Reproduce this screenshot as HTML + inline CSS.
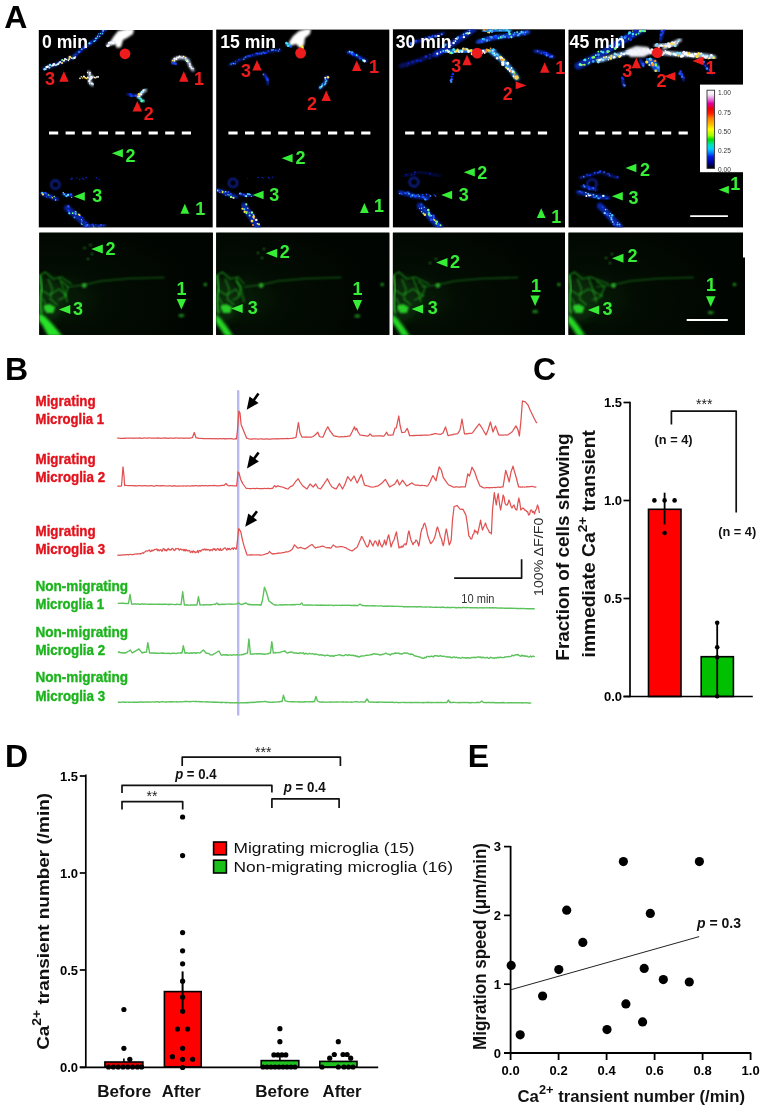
<!DOCTYPE html><html><head><meta charset="utf-8"><style>html,body{margin:0;padding:0;background:#fff;}svg{display:block;}text{font-family:'Liberation Sans',sans-serif;}</style></head><body>
<svg style="filter:blur(0.4px)" width="765" height="1112" viewBox="0 0 765 1112">
<rect width="765" height="1112" fill="#fff"/>
<text x="4.2" y="28.2" font-size="32" font-weight="bold" font-style="normal" fill="#000" text-anchor="start" >A</text>
<text x="5.0" y="379.8" font-size="32" font-weight="bold" font-style="normal" fill="#000" text-anchor="start" >B</text>
<text x="532.9" y="379.7" font-size="32" font-weight="bold" font-style="normal" fill="#000" text-anchor="start" >C</text>
<text x="5.0" y="766.9" font-size="32" font-weight="bold" font-style="normal" fill="#000" text-anchor="start" >D</text>
<text x="467.8" y="766.9" font-size="32" font-weight="bold" font-style="normal" fill="#000" text-anchor="start" >E</text>
<rect x="38.8" y="30.0" width="173.9" height="197.4" fill="#000"/>
<rect x="216.2" y="29.6" width="173.1" height="197.8" fill="#000"/>
<rect x="392.9" y="29.3" width="172.1" height="198.1" fill="#000"/>
<rect x="568.5" y="29.7" width="174.5" height="197.7" fill="#000"/>
<rect x="39.3" y="232.7" width="173.5" height="102.2" fill="#020d02"/>
<rect x="216.2" y="232.7" width="173.1" height="102.2" fill="#020d02"/>
<rect x="392.9" y="232.7" width="172.1" height="102.2" fill="#020d02"/>
<rect x="568.5" y="232.7" width="174.5" height="102.2" fill="#020d02"/>
<rect x="742" y="257.7" width="3" height="77.2" fill="#020d02"/>
<defs><filter id="bl1" x="-20%" y="-20%" width="140%" height="140%"><feGaussianBlur stdDeviation="0.9"/></filter><filter id="bl2" x="-30%" y="-30%" width="160%" height="160%"><feGaussianBlur stdDeviation="1.6"/></filter><filter id="bl4" x="-30%" y="-30%" width="160%" height="160%"><feGaussianBlur stdDeviation="4"/></filter><clipPath id="cp1"><rect x="38.8" y="30" width="173.9" height="197.4"/></clipPath><clipPath id="cp2"><rect x="216.2" y="29.6" width="173.1" height="197.8"/></clipPath><clipPath id="cp3"><rect x="392.9" y="29.3" width="172.1" height="198.1"/></clipPath><clipPath id="cp4"><rect x="568.5" y="29.7" width="174.5" height="197.7"/></clipPath><clipPath id="gp1"><rect x="39.3" y="232.7" width="173.5" height="102.2"/></clipPath><clipPath id="gp2"><rect x="216.2" y="232.7" width="173.1" height="102.2"/></clipPath><clipPath id="gp3"><rect x="392.9" y="232.7" width="172.1" height="102.2"/></clipPath><clipPath id="gp4"><rect x="568.5" y="232.7" width="176.5" height="102.2"/></clipPath></defs>
<g clip-path="url(#cp1)">
<polyline points="105.0,29.0 95.0,40.0 85.0,47.0 75.0,55.0" fill="none" stroke="#1030d0" stroke-width="3" stroke-linecap="round" stroke-linejoin="round" filter="url(#bl1)" opacity="0.8"/>
<circle cx="105.8" cy="29.7" r="1.0" fill="#2050ff"/>
<circle cx="103.1" cy="30.8" r="1.1" fill="#40a0ff"/>
<circle cx="102.5" cy="32.0" r="0.6" fill="#2050ff"/>
<circle cx="102.5" cy="33.7" r="0.9" fill="#40a0ff"/>
<circle cx="100.4" cy="33.6" r="0.6" fill="#60ffc0"/>
<circle cx="98.7" cy="33.8" r="0.6" fill="#40a0ff"/>
<circle cx="99.7" cy="36.5" r="0.7" fill="#40e0ff"/>
<circle cx="97.6" cy="36.3" r="0.7" fill="#60ffc0"/>
<circle cx="97.4" cy="37.9" r="0.9" fill="#2050ff"/>
<circle cx="96.0" cy="38.4" r="0.9" fill="#60ffc0"/>
<circle cx="95.8" cy="40.0" r="1.0" fill="#1030ff"/>
<circle cx="95.4" cy="40.6" r="0.7" fill="#40a0ff"/>
<circle cx="94.3" cy="41.2" r="0.9" fill="#40e0ff"/>
<circle cx="91.0" cy="41.1" r="0.7" fill="#1030ff"/>
<circle cx="91.0" cy="43.4" r="1.2" fill="#1030ff"/>
<circle cx="89.4" cy="43.3" r="1.1" fill="#60ffc0"/>
<circle cx="86.7" cy="46.3" r="0.9" fill="#1030ff"/>
<circle cx="86.1" cy="47.7" r="0.8" fill="#2050ff"/>
<circle cx="84.6" cy="46.5" r="1.0" fill="#1030ff"/>
<circle cx="84.2" cy="48.1" r="1.0" fill="#2050ff"/>
<circle cx="81.7" cy="49.2" r="0.9" fill="#40a0ff"/>
<circle cx="80.4" cy="51.7" r="0.8" fill="#1030ff"/>
<circle cx="79.0" cy="52.0" r="0.9" fill="#40a0ff"/>
<circle cx="76.0" cy="54.5" r="0.8" fill="#1030ff"/>
<polyline points="75.0,56.0 64.0,61.0 54.0,65.0 44.0,68.5" fill="none" stroke="#2050e0" stroke-width="3" stroke-linecap="round" stroke-linejoin="round" filter="url(#bl1)" opacity="0.7"/>
<circle cx="75.4" cy="57.0" r="0.8" fill="#f0f0ff"/>
<circle cx="74.4" cy="57.9" r="1.2" fill="#ffffff"/>
<circle cx="73.2" cy="58.4" r="1.0" fill="#80e0ff"/>
<circle cx="71.7" cy="58.1" r="0.8" fill="#ffffff"/>
<circle cx="69.8" cy="57.1" r="1.3" fill="#ffe040"/>
<circle cx="69.2" cy="59.0" r="1.0" fill="#ffe040"/>
<circle cx="68.4" cy="60.4" r="0.8" fill="#ffffff"/>
<circle cx="66.6" cy="59.5" r="0.8" fill="#ffffff"/>
<circle cx="65.0" cy="59.1" r="1.1" fill="#ffffff"/>
<circle cx="64.2" cy="60.5" r="0.8" fill="#ffe040"/>
<circle cx="63.9" cy="60.7" r="1.0" fill="#ffffff"/>
<circle cx="62.2" cy="60.1" r="1.0" fill="#80ff80"/>
<circle cx="62.0" cy="63.0" r="1.1" fill="#ffe040"/>
<circle cx="60.2" cy="61.9" r="1.0" fill="#f0f0ff"/>
<circle cx="59.1" cy="62.9" r="0.8" fill="#ffffff"/>
<circle cx="58.2" cy="64.0" r="1.1" fill="#ffffff"/>
<circle cx="57.0" cy="64.6" r="0.9" fill="#ffffff"/>
<circle cx="55.9" cy="65.2" r="1.0" fill="#80e0ff"/>
<circle cx="54.2" cy="64.5" r="1.2" fill="#f0f0ff"/>
<circle cx="53.7" cy="64.1" r="1.1" fill="#f0f0ff"/>
<circle cx="52.8" cy="65.4" r="1.1" fill="#ffffff"/>
<circle cx="51.6" cy="65.9" r="0.8" fill="#80e0ff"/>
<circle cx="49.9" cy="65.1" r="1.3" fill="#80e0ff"/>
<circle cx="49.5" cy="67.8" r="1.0" fill="#80e0ff"/>
<circle cx="47.7" cy="66.8" r="1.2" fill="#ffffff"/>
<circle cx="46.5" cy="67.1" r="1.2" fill="#ffffff"/>
<circle cx="45.8" cy="69.1" r="0.9" fill="#f0f0ff"/>
<circle cx="44.5" cy="69.3" r="1.2" fill="#80e0ff"/>
<polygon points="110.0,42.0 114.0,36.0 118.0,31.0 126.0,29.0 134.0,29.0 133.0,34.0 127.0,38.0 123.0,40.0 121.0,47.0 117.0,48.0 115.0,44.0 108.0,46.0" fill="#ffffff" filter="url(#bl1)" opacity="1.0"/>
<polyline points="107.0,45.0 114.0,42.0" fill="none" stroke="#c0e0ff" stroke-width="2.4" stroke-linecap="round" stroke-linejoin="round" filter="url(#bl1)" opacity="0.9"/>
<circle cx="107.4" cy="46.0" r="1.2" fill="#f0f0ff"/>
<circle cx="108.6" cy="45.5" r="1.2" fill="#ffffff"/>
<circle cx="108.9" cy="42.9" r="1.1" fill="#f0f0ff"/>
<circle cx="110.3" cy="42.7" r="1.3" fill="#f0f0ff"/>
<circle cx="111.6" cy="42.6" r="1.0" fill="#ffffff"/>
<circle cx="113.3" cy="43.1" r="1.2" fill="#ffffff"/>
<polyline points="80.0,77.4 99.0,77.4" fill="none" stroke="#c0d0ff" stroke-width="2.4" stroke-linecap="round" stroke-linejoin="round" filter="url(#bl1)" opacity="0.9"/>
<circle cx="80.0" cy="78.4" r="0.8" fill="#ffffff"/>
<circle cx="81.3" cy="76.7" r="0.7" fill="#ffffff"/>
<circle cx="82.6" cy="78.0" r="0.8" fill="#ffe040"/>
<circle cx="83.9" cy="76.5" r="1.1" fill="#ffffff"/>
<circle cx="85.2" cy="77.8" r="1.0" fill="#ffe040"/>
<circle cx="86.5" cy="78.4" r="0.9" fill="#ffe040"/>
<circle cx="87.8" cy="77.4" r="1.0" fill="#ffffff"/>
<circle cx="89.1" cy="78.1" r="0.7" fill="#ffffff"/>
<circle cx="90.4" cy="77.9" r="0.9" fill="#ffffff"/>
<circle cx="91.7" cy="77.5" r="0.8" fill="#ffffff"/>
<circle cx="93.0" cy="76.3" r="0.7" fill="#ffffff"/>
<circle cx="94.3" cy="77.4" r="0.9" fill="#ffffff"/>
<circle cx="95.6" cy="77.7" r="0.9" fill="#ffe040"/>
<circle cx="96.9" cy="76.9" r="0.9" fill="#f0f0ff"/>
<circle cx="98.2" cy="76.8" r="0.9" fill="#ffffff"/>
<polyline points="88.5,72.0 91.0,77.0 89.0,81.0 92.5,85.0" fill="none" stroke="#d0e0ff" stroke-width="2.8" stroke-linecap="round" stroke-linejoin="round" filter="url(#bl1)" opacity="0.9"/>
<circle cx="87.5" cy="72.5" r="0.7" fill="#f0f0ff"/>
<circle cx="90.0" cy="72.7" r="0.9" fill="#ffffff"/>
<circle cx="89.8" cy="74.2" r="0.7" fill="#ffffff"/>
<circle cx="89.2" cy="76.0" r="0.7" fill="#80e0ff"/>
<circle cx="91.2" cy="76.5" r="0.8" fill="#ffffff"/>
<circle cx="91.7" cy="77.4" r="1.2" fill="#f0f0ff"/>
<circle cx="91.3" cy="78.6" r="1.0" fill="#ffffff"/>
<circle cx="90.0" cy="79.4" r="0.9" fill="#ffffff"/>
<circle cx="89.6" cy="80.7" r="0.7" fill="#ffffff"/>
<circle cx="88.9" cy="81.1" r="0.9" fill="#ffffff"/>
<circle cx="89.8" cy="82.0" r="0.8" fill="#ffffff"/>
<circle cx="89.8" cy="83.7" r="0.7" fill="#ffffff"/>
<circle cx="92.0" cy="83.5" r="1.1" fill="#ffffff"/>
<circle cx="93.2" cy="84.2" r="0.9" fill="#80e0ff"/>
<polyline points="173.0,61.0 177.0,58.0 183.0,57.5 188.0,60.0 190.0,66.0 193.0,70.0" fill="none" stroke="#d0e0ff" stroke-width="3" stroke-linecap="round" stroke-linejoin="round" filter="url(#bl1)" opacity="0.9"/>
<circle cx="172.6" cy="60.4" r="0.7" fill="#ffe040"/>
<circle cx="174.4" cy="60.7" r="0.7" fill="#ffffff"/>
<circle cx="174.5" cy="58.7" r="1.1" fill="#ffffff"/>
<circle cx="176.4" cy="59.0" r="1.1" fill="#ffffff"/>
<circle cx="176.9" cy="57.2" r="0.8" fill="#ffffff"/>
<circle cx="178.3" cy="57.4" r="0.9" fill="#ffffff"/>
<circle cx="179.5" cy="56.4" r="1.0" fill="#ffffff"/>
<circle cx="180.8" cy="57.0" r="0.7" fill="#ffffff"/>
<circle cx="182.2" cy="57.7" r="0.7" fill="#f0f0ff"/>
<circle cx="183.4" cy="56.6" r="0.8" fill="#ffffff"/>
<circle cx="184.8" cy="56.8" r="0.6" fill="#ffe040"/>
<circle cx="185.7" cy="57.8" r="0.9" fill="#f0f0ff"/>
<circle cx="186.1" cy="60.1" r="0.9" fill="#f0f0ff"/>
<circle cx="187.1" cy="60.9" r="1.2" fill="#ffffff"/>
<circle cx="186.6" cy="60.5" r="0.8" fill="#80ffa0"/>
<circle cx="187.8" cy="61.5" r="0.7" fill="#ffffff"/>
<circle cx="187.9" cy="62.8" r="0.6" fill="#80e0ff"/>
<circle cx="189.9" cy="63.5" r="0.7" fill="#ffffff"/>
<circle cx="190.0" cy="64.8" r="0.9" fill="#ffffff"/>
<circle cx="189.5" cy="66.3" r="0.6" fill="#ffffff"/>
<circle cx="190.9" cy="66.9" r="0.8" fill="#ffffff"/>
<circle cx="191.4" cy="68.2" r="0.7" fill="#ffffff"/>
<circle cx="193.1" cy="68.5" r="0.8" fill="#ffffff"/>
<polyline points="172.0,63.0 176.0,64.0" fill="none" stroke="#1030e0" stroke-width="2" stroke-linecap="round" stroke-linejoin="round" filter="url(#bl1)" opacity="0.9"/>
<circle cx="172.0" cy="63.0" r="0.8" fill="#2050ff"/>
<circle cx="173.1" cy="63.9" r="0.7" fill="#2050ff"/>
<circle cx="174.6" cy="63.2" r="1.1" fill="#2050ff"/>
<circle cx="175.8" cy="64.0" r="1.2" fill="#1840e0"/>
<polyline points="128.0,94.0 134.0,96.0 140.0,95.0" fill="none" stroke="#1030e0" stroke-width="2.4" stroke-linecap="round" stroke-linejoin="round" filter="url(#bl1)" opacity="0.9"/>
<circle cx="130.6" cy="94.3" r="1.1" fill="#1030ff"/>
<circle cx="131.4" cy="96.0" r="1.3" fill="#1840e0"/>
<circle cx="135.3" cy="95.8" r="1.0" fill="#2050ff"/>
<circle cx="138.0" cy="96.3" r="1.1" fill="#1030ff"/>
<circle cx="138.9" cy="94.1" r="1.1" fill="#2050ff"/>
<polyline points="138.0,97.0 143.0,92.0 146.0,90.0" fill="none" stroke="#e0e8ff" stroke-width="2.6" stroke-linecap="round" stroke-linejoin="round" filter="url(#bl1)" opacity="0.9"/>
<circle cx="137.9" cy="96.9" r="0.6" fill="#ffffff"/>
<circle cx="139.3" cy="96.4" r="1.0" fill="#ffffff"/>
<circle cx="139.0" cy="94.4" r="1.3" fill="#ffe040"/>
<circle cx="140.8" cy="94.3" r="1.2" fill="#f0f0ff"/>
<circle cx="140.9" cy="92.5" r="0.8" fill="#80e0ff"/>
<circle cx="142.1" cy="91.9" r="1.1" fill="#f0f0ff"/>
<circle cx="142.8" cy="91.7" r="1.0" fill="#80e0ff"/>
<circle cx="143.4" cy="90.3" r="1.1" fill="#ffffff"/>
<circle cx="144.7" cy="89.8" r="0.8" fill="#80e0ff"/>
<polyline points="139.0,98.0 144.0,102.0" fill="none" stroke="#40e0a0" stroke-width="2" stroke-linecap="round" stroke-linejoin="round" filter="url(#bl1)" opacity="0.9"/>
<circle cx="138.8" cy="98.2" r="0.7" fill="#40c0ff"/>
<circle cx="140.3" cy="98.5" r="1.1" fill="#60ffc0"/>
<circle cx="141.3" cy="99.3" r="1.0" fill="#40c0ff"/>
<circle cx="141.7" cy="100.9" r="1.4" fill="#60ffc0"/>
<circle cx="143.6" cy="100.6" r="1.0" fill="#40c0ff"/>
<circle cx="55.4" cy="184.7" r="4.2" fill="none" stroke="#1530d0" stroke-width="1.8" filter="url(#bl1)" opacity="0.9"/>
<polyline points="64.0,178.6 100.0,178.6" fill="none" stroke="#081890" stroke-width="2" stroke-linecap="round" stroke-linejoin="round" filter="url(#bl1)" opacity="0.5"/>
<circle cx="70.5" cy="179.5" r="0.6" fill="#0a20b0"/>
<circle cx="71.8" cy="178.6" r="1.0" fill="#0a20b0"/>
<circle cx="77.0" cy="178.3" r="0.7" fill="#0a20b0"/>
<circle cx="79.6" cy="179.5" r="0.8" fill="#0a20b0"/>
<circle cx="82.2" cy="178.3" r="0.7" fill="#0a20b0"/>
<circle cx="83.5" cy="179.1" r="0.9" fill="#0a20b0"/>
<circle cx="86.1" cy="177.6" r="0.9" fill="#0a20b0"/>
<circle cx="96.5" cy="177.8" r="0.9" fill="#0a20b0"/>
<circle cx="99.1" cy="179.5" r="0.7" fill="#0a20b0"/>
<polyline points="42.0,193.5 50.0,196.5 57.0,199.5" fill="none" stroke="#1030d0" stroke-width="4" stroke-linecap="round" stroke-linejoin="round" filter="url(#bl1)" opacity="0.8"/>
<circle cx="42.2" cy="193.0" r="1.2" fill="#40c0ff"/>
<circle cx="43.0" cy="194.4" r="1.1" fill="#ffe040"/>
<circle cx="45.1" cy="192.7" r="1.0" fill="#2050ff"/>
<circle cx="46.2" cy="193.5" r="1.1" fill="#2050ff"/>
<circle cx="46.3" cy="196.9" r="0.7" fill="#2050ff"/>
<circle cx="48.4" cy="195.0" r="0.8" fill="#80ff80"/>
<circle cx="49.7" cy="195.3" r="0.9" fill="#2050ff"/>
<circle cx="49.8" cy="197.0" r="0.6" fill="#2050ff"/>
<circle cx="51.3" cy="196.8" r="0.8" fill="#2050ff"/>
<circle cx="52.3" cy="197.7" r="0.7" fill="#ffe040"/>
<circle cx="54.2" cy="196.5" r="0.7" fill="#80ff80"/>
<circle cx="55.2" cy="197.5" r="0.6" fill="#2050ff"/>
<circle cx="55.6" cy="200.0" r="0.7" fill="#80ff80"/>
<polyline points="63.0,194.0 72.0,196.0" fill="none" stroke="#1030d0" stroke-width="3" stroke-linecap="round" stroke-linejoin="round" filter="url(#bl1)" opacity="0.8"/>
<circle cx="63.3" cy="192.7" r="0.8" fill="#80e0ff"/>
<circle cx="64.3" cy="194.3" r="1.0" fill="#40c0ff"/>
<circle cx="65.3" cy="195.7" r="0.8" fill="#2050ff"/>
<circle cx="66.5" cy="196.2" r="1.1" fill="#40c0ff"/>
<circle cx="68.1" cy="194.9" r="1.1" fill="#80e0ff"/>
<circle cx="70.9" cy="194.4" r="1.2" fill="#2050ff"/>
<circle cx="71.6" cy="197.4" r="0.7" fill="#40c0ff"/>
<polyline points="67.0,208.0 74.0,214.0 81.0,220.0 88.0,227.4" fill="none" stroke="#1030d0" stroke-width="6" stroke-linecap="round" stroke-linejoin="round" filter="url(#bl1)" opacity="0.75"/>
<circle cx="68.4" cy="206.4" r="1.3" fill="#2050ff"/>
<circle cx="68.4" cy="210.4" r="1.1" fill="#1030ff"/>
<circle cx="68.9" cy="211.8" r="0.6" fill="#40a0ff"/>
<circle cx="69.3" cy="213.3" r="1.1" fill="#40e0ff"/>
<circle cx="72.8" cy="213.2" r="0.9" fill="#80ff80"/>
<circle cx="75.6" cy="212.0" r="1.0" fill="#60ffc0"/>
<circle cx="74.9" cy="212.9" r="1.2" fill="#2050ff"/>
<circle cx="75.8" cy="213.9" r="0.9" fill="#40e0ff"/>
<circle cx="74.5" cy="217.4" r="0.9" fill="#40a0ff"/>
<circle cx="78.8" cy="214.4" r="0.9" fill="#ffe040"/>
<circle cx="79.8" cy="215.2" r="0.9" fill="#ffe040"/>
<circle cx="80.6" cy="216.3" r="0.8" fill="#1030ff"/>
<circle cx="82.7" cy="217.8" r="0.8" fill="#1030ff"/>
<circle cx="81.5" cy="219.6" r="0.6" fill="#40e0ff"/>
<circle cx="81.9" cy="221.0" r="0.7" fill="#40a0ff"/>
<circle cx="81.4" cy="223.2" r="0.8" fill="#40a0ff"/>
<circle cx="82.0" cy="224.4" r="0.7" fill="#60ffc0"/>
<circle cx="85.9" cy="222.5" r="0.8" fill="#1030ff"/>
<circle cx="85.9" cy="226.1" r="1.2" fill="#2050ff"/>
<circle cx="85.2" cy="228.6" r="0.7" fill="#2050ff"/>
<polyline points="86.0,225.0 96.0,226.0 105.0,225.0" fill="none" stroke="#1030d0" stroke-width="3" stroke-linecap="round" stroke-linejoin="round" filter="url(#bl1)" opacity="0.7"/>
<circle cx="87.3" cy="225.0" r="1.0" fill="#4080ff"/>
<circle cx="92.6" cy="224.7" r="1.2" fill="#1840e0"/>
<circle cx="93.7" cy="226.3" r="0.8" fill="#4080ff"/>
<circle cx="95.9" cy="224.8" r="0.6" fill="#2050ff"/>
<circle cx="97.4" cy="227.2" r="0.7" fill="#1030ff"/>
<circle cx="98.7" cy="226.5" r="0.8" fill="#1840e0"/>
<circle cx="99.9" cy="226.2" r="0.7" fill="#1840e0"/>
<circle cx="101.1" cy="225.0" r="1.1" fill="#2050ff"/>
<circle cx="103.8" cy="225.5" r="0.8" fill="#1840e0"/>
<polyline points="180.0,198.0 186.0,198.0" fill="none" stroke="#1030ff" stroke-width="1.2" stroke-linecap="round" stroke-linejoin="round" filter="url(#bl1)" opacity="1.0"/>
</g>
<g clip-path="url(#cp2)">
<polygon points="289.0,42.0 293.0,36.0 299.0,31.0 306.0,29.0 311.0,29.0 310.0,34.0 305.0,38.0 304.0,45.0 300.0,48.0 296.0,44.0 290.0,46.0" fill="#ffffff" filter="url(#bl1)" opacity="1.0"/>
<polyline points="286.0,44.0 291.0,46.0" fill="none" stroke="#40c0ff" stroke-width="2.2" stroke-linecap="round" stroke-linejoin="round" filter="url(#bl1)" opacity="0.9"/>
<circle cx="286.4" cy="43.1" r="1.3" fill="#40e0ff"/>
<circle cx="287.6" cy="43.6" r="1.1" fill="#40e0ff"/>
<circle cx="288.0" cy="45.9" r="1.1" fill="#40e0ff"/>
<circle cx="289.5" cy="45.8" r="1.3" fill="#40e0ff"/>
<circle cx="290.6" cy="46.5" r="1.3" fill="#2050ff"/>
<polyline points="300.0,45.0 303.0,48.0" fill="none" stroke="#ffe040" stroke-width="2.2" stroke-linecap="round" stroke-linejoin="round" filter="url(#bl1)" opacity="0.9"/>
<circle cx="300.4" cy="44.6" r="1.0" fill="#ffffff"/>
<circle cx="301.1" cy="45.7" r="0.8" fill="#ffffff"/>
<circle cx="302.4" cy="46.3" r="1.0" fill="#ffe040"/>
<circle cx="302.4" cy="48.1" r="1.3" fill="#ffe040"/>
<polyline points="230.0,65.0 240.0,60.0 250.0,56.0 262.0,53.0 272.0,51.0 280.0,50.0" fill="none" stroke="#1030d0" stroke-width="2.4" stroke-linecap="round" stroke-linejoin="round" filter="url(#bl1)" opacity="0.7"/>
<circle cx="231.0" cy="64.0" r="0.8" fill="#40c0ff"/>
<circle cx="232.0" cy="63.2" r="1.0" fill="#1030ff"/>
<circle cx="233.6" cy="63.6" r="0.8" fill="#40c0ff"/>
<circle cx="235.2" cy="63.7" r="1.0" fill="#2050ff"/>
<circle cx="235.4" cy="61.2" r="0.6" fill="#1840e0"/>
<circle cx="238.9" cy="59.6" r="0.8" fill="#1030ff"/>
<circle cx="243.9" cy="59.3" r="0.7" fill="#40c0ff"/>
<circle cx="244.6" cy="57.5" r="0.7" fill="#1840e0"/>
<circle cx="245.8" cy="57.0" r="0.7" fill="#40c0ff"/>
<circle cx="246.9" cy="56.1" r="0.7" fill="#1030ff"/>
<circle cx="248.2" cy="56.0" r="1.0" fill="#1840e0"/>
<circle cx="250.0" cy="55.9" r="1.0" fill="#1840e0"/>
<circle cx="252.4" cy="54.9" r="0.7" fill="#1030ff"/>
<circle cx="256.1" cy="53.4" r="0.9" fill="#1030ff"/>
<circle cx="257.4" cy="53.5" r="1.0" fill="#2050ff"/>
<circle cx="258.9" cy="54.0" r="0.9" fill="#1030ff"/>
<circle cx="260.0" cy="53.1" r="0.6" fill="#4080ff"/>
<circle cx="261.5" cy="53.7" r="1.1" fill="#2050ff"/>
<circle cx="263.2" cy="52.4" r="0.9" fill="#2050ff"/>
<circle cx="264.7" cy="53.2" r="0.9" fill="#2050ff"/>
<circle cx="266.0" cy="52.9" r="0.9" fill="#1030ff"/>
<circle cx="268.2" cy="50.9" r="0.9" fill="#1840e0"/>
<circle cx="271.9" cy="49.9" r="1.0" fill="#4080ff"/>
<circle cx="273.1" cy="49.7" r="1.0" fill="#4080ff"/>
<circle cx="275.8" cy="50.3" r="1.1" fill="#1840e0"/>
<circle cx="278.5" cy="51.0" r="0.8" fill="#4080ff"/>
<circle cx="279.6" cy="49.2" r="0.6" fill="#40c0ff"/>
<polyline points="264.0,74.0 268.0,80.0 268.0,84.0" fill="none" stroke="#1030d0" stroke-width="2.4" stroke-linecap="round" stroke-linejoin="round" filter="url(#bl1)" opacity="0.9"/>
<circle cx="263.4" cy="74.4" r="0.9" fill="#4080ff"/>
<circle cx="265.7" cy="76.0" r="0.7" fill="#1030ff"/>
<circle cx="266.9" cy="78.3" r="1.2" fill="#1030ff"/>
<circle cx="266.9" cy="79.9" r="0.6" fill="#1840e0"/>
<circle cx="267.7" cy="80.0" r="1.1" fill="#2050ff"/>
<polyline points="348.0,52.0 357.0,56.0 366.0,61.0" fill="none" stroke="#1030d0" stroke-width="3" stroke-linecap="round" stroke-linejoin="round" filter="url(#bl1)" opacity="0.9"/>
<circle cx="347.7" cy="52.8" r="0.8" fill="#1030ff"/>
<circle cx="349.6" cy="51.7" r="1.0" fill="#60ffc0"/>
<circle cx="350.5" cy="52.8" r="1.0" fill="#1030ff"/>
<circle cx="352.0" cy="52.6" r="1.4" fill="#40a0ff"/>
<circle cx="352.7" cy="54.3" r="1.2" fill="#2050ff"/>
<circle cx="354.2" cy="54.2" r="0.9" fill="#1030ff"/>
<circle cx="355.0" cy="55.5" r="0.8" fill="#1030ff"/>
<circle cx="356.6" cy="55.0" r="0.9" fill="#40e0ff"/>
<circle cx="357.1" cy="55.8" r="0.6" fill="#60ffc0"/>
<circle cx="359.4" cy="57.1" r="1.1" fill="#1030ff"/>
<circle cx="360.0" cy="58.7" r="0.9" fill="#2050ff"/>
<circle cx="361.6" cy="58.3" r="0.7" fill="#1030ff"/>
<circle cx="362.5" cy="59.6" r="0.6" fill="#40a0ff"/>
<circle cx="363.5" cy="60.4" r="1.2" fill="#60ffc0"/>
<circle cx="364.6" cy="61.1" r="1.3" fill="#ffffff"/>
<polyline points="327.0,77.0 325.0,83.0 320.0,88.0" fill="none" stroke="#2050e0" stroke-width="3" stroke-linecap="round" stroke-linejoin="round" filter="url(#bl1)" opacity="0.9"/>
<circle cx="328.0" cy="77.3" r="1.3" fill="#ffe040"/>
<circle cx="325.2" cy="77.8" r="1.0" fill="#ffffff"/>
<circle cx="325.5" cy="79.3" r="0.8" fill="#40c0ff"/>
<circle cx="326.5" cy="80.9" r="0.9" fill="#40c0ff"/>
<circle cx="325.5" cy="82.0" r="0.8" fill="#80ff80"/>
<circle cx="325.5" cy="83.5" r="1.0" fill="#40c0ff"/>
<circle cx="324.7" cy="84.6" r="0.9" fill="#40c0ff"/>
<circle cx="322.3" cy="84.0" r="0.7" fill="#40c0ff"/>
<circle cx="322.2" cy="85.7" r="1.1" fill="#40c0ff"/>
<circle cx="321.4" cy="86.8" r="1.0" fill="#ffe040"/>
<circle cx="320.3" cy="87.5" r="1.3" fill="#40c0ff"/>
<circle cx="233" cy="183" r="4.2" fill="none" stroke="#1530d0" stroke-width="1.8" filter="url(#bl1)" opacity="0.9"/>
<polyline points="240.0,178.0 276.0,178.0" fill="none" stroke="#081890" stroke-width="2" stroke-linecap="round" stroke-linejoin="round" filter="url(#bl1)" opacity="0.5"/>
<circle cx="247.8" cy="178.5" r="0.5" fill="#0a20b0"/>
<circle cx="258.2" cy="177.6" r="0.8" fill="#0a20b0"/>
<circle cx="262.1" cy="177.5" r="0.8" fill="#0a20b0"/>
<circle cx="263.4" cy="178.1" r="0.7" fill="#0a20b0"/>
<circle cx="268.6" cy="177.7" r="0.9" fill="#0a20b0"/>
<circle cx="269.9" cy="178.9" r="0.6" fill="#0a20b0"/>
<circle cx="272.5" cy="177.3" r="0.8" fill="#0a20b0"/>
<polyline points="218.0,190.0 228.0,194.0 236.0,197.0" fill="none" stroke="#1030d0" stroke-width="4" stroke-linecap="round" stroke-linejoin="round" filter="url(#bl1)" opacity="0.8"/>
<circle cx="217.8" cy="190.5" r="0.9" fill="#80ff80"/>
<circle cx="219.1" cy="190.8" r="1.0" fill="#2050ff"/>
<circle cx="219.8" cy="192.5" r="0.6" fill="#40c0ff"/>
<circle cx="222.0" cy="190.5" r="0.6" fill="#40c0ff"/>
<circle cx="222.8" cy="192.1" r="1.2" fill="#ffe040"/>
<circle cx="224.0" cy="192.5" r="1.0" fill="#2050ff"/>
<circle cx="225.7" cy="191.7" r="0.8" fill="#80ff80"/>
<circle cx="225.7" cy="195.2" r="1.0" fill="#2050ff"/>
<circle cx="228.4" cy="192.0" r="1.1" fill="#2050ff"/>
<circle cx="227.8" cy="194.6" r="0.7" fill="#40c0ff"/>
<circle cx="229.0" cy="195.0" r="0.7" fill="#80ff80"/>
<circle cx="230.8" cy="194.0" r="0.9" fill="#2050ff"/>
<circle cx="231.1" cy="196.9" r="1.2" fill="#80ff80"/>
<circle cx="232.2" cy="197.6" r="0.7" fill="#40c0ff"/>
<circle cx="233.5" cy="197.8" r="1.1" fill="#ffe040"/>
<polyline points="240.0,194.0 252.0,196.0" fill="none" stroke="#1030d0" stroke-width="3" stroke-linecap="round" stroke-linejoin="round" filter="url(#bl1)" opacity="0.8"/>
<circle cx="240.1" cy="193.5" r="1.1" fill="#80e0ff"/>
<circle cx="241.3" cy="193.9" r="1.1" fill="#2050ff"/>
<circle cx="243.8" cy="194.7" r="0.9" fill="#2050ff"/>
<circle cx="245.0" cy="195.9" r="0.9" fill="#2050ff"/>
<circle cx="246.2" cy="196.2" r="1.1" fill="#80e0ff"/>
<circle cx="247.9" cy="194.0" r="1.1" fill="#40c0ff"/>
<circle cx="249.2" cy="194.3" r="1.0" fill="#40c0ff"/>
<circle cx="250.4" cy="194.6" r="0.6" fill="#40c0ff"/>
<circle cx="251.5" cy="196.3" r="0.6" fill="#40c0ff"/>
<polyline points="244.0,206.0 248.0,212.0 252.0,218.0 258.0,227.4" fill="none" stroke="#1030d0" stroke-width="6.5" stroke-linecap="round" stroke-linejoin="round" filter="url(#bl1)" opacity="0.8"/>
<circle cx="246.3" cy="204.4" r="1.1" fill="#80ff80"/>
<circle cx="242.3" cy="208.7" r="1.0" fill="#ffe040"/>
<circle cx="244.1" cy="209.1" r="1.2" fill="#40c0ff"/>
<circle cx="247.8" cy="208.2" r="0.7" fill="#ffe040"/>
<circle cx="244.7" cy="211.8" r="1.2" fill="#ffe040"/>
<circle cx="246.9" cy="211.9" r="0.8" fill="#ffe040"/>
<circle cx="246.4" cy="213.1" r="1.1" fill="#80ff80"/>
<circle cx="249.1" cy="212.8" r="0.6" fill="#80ff80"/>
<circle cx="251.9" cy="212.5" r="1.2" fill="#80ff80"/>
<circle cx="249.6" cy="215.6" r="1.0" fill="#80ff80"/>
<circle cx="253.4" cy="214.6" r="0.9" fill="#40c0ff"/>
<circle cx="253.8" cy="216.0" r="1.0" fill="#ffe040"/>
<circle cx="253.6" cy="217.0" r="1.3" fill="#ffe040"/>
<circle cx="253.9" cy="218.4" r="0.9" fill="#ff9020"/>
<circle cx="252.0" cy="221.1" r="1.4" fill="#ffe040"/>
<circle cx="256.3" cy="219.9" r="1.2" fill="#ffffff"/>
<circle cx="253.0" cy="225.1" r="1.0" fill="#ff9020"/>
<circle cx="257.4" cy="223.8" r="0.8" fill="#ffffff"/>
<circle cx="259.0" cy="224.3" r="1.1" fill="#ffe040"/>
<circle cx="254.9" cy="228.5" r="1.0" fill="#ffe040"/>
</g>
<g clip-path="url(#cp3)">
<polyline points="401.0,66.0 414.0,62.0 428.0,57.0 442.0,52.0" fill="none" stroke="#0a1aa0" stroke-width="4.5" stroke-linecap="round" stroke-linejoin="round" filter="url(#bl1)" opacity="0.6"/>
<circle cx="407.7" cy="65.8" r="0.6" fill="#0a20c0"/>
<circle cx="408.4" cy="63.4" r="0.9" fill="#0a20c0"/>
<circle cx="412.1" cy="62.4" r="0.9" fill="#0a20c0"/>
<circle cx="413.2" cy="61.4" r="0.7" fill="#1030e0"/>
<circle cx="416.4" cy="60.9" r="1.1" fill="#0a20c0"/>
<circle cx="417.6" cy="60.5" r="1.1" fill="#0a20c0"/>
<circle cx="420.5" cy="60.9" r="1.1" fill="#0a20c0"/>
<circle cx="425.8" cy="56.5" r="1.2" fill="#1030e0"/>
<circle cx="429.9" cy="58.5" r="0.7" fill="#1030e0"/>
<circle cx="429.9" cy="54.6" r="0.8" fill="#1030e0"/>
<circle cx="433.1" cy="55.8" r="0.7" fill="#0a20c0"/>
<circle cx="437.1" cy="55.4" r="0.9" fill="#0a20c0"/>
<circle cx="441.6" cy="52.6" r="0.8" fill="#0a20c0"/>
<polyline points="436.0,54.0 446.0,48.0 458.0,40.0 468.0,33.0 474.0,29.0" fill="none" stroke="#1030d0" stroke-width="6" stroke-linecap="round" stroke-linejoin="round" filter="url(#bl1)" opacity="0.75"/>
<circle cx="437.3" cy="53.7" r="1.1" fill="#ffffff"/>
<circle cx="439.8" cy="52.8" r="1.2" fill="#1030ff"/>
<circle cx="440.9" cy="52.1" r="0.9" fill="#ffffff"/>
<circle cx="442.2" cy="51.7" r="1.2" fill="#1030ff"/>
<circle cx="443.3" cy="51.1" r="1.0" fill="#60ffc0"/>
<circle cx="443.4" cy="46.2" r="1.2" fill="#40e0ff"/>
<circle cx="445.5" cy="44.8" r="1.2" fill="#40a0ff"/>
<circle cx="448.3" cy="46.8" r="0.7" fill="#1030ff"/>
<circle cx="447.9" cy="43.8" r="1.0" fill="#1030ff"/>
<circle cx="450.4" cy="45.2" r="1.0" fill="#ffffff"/>
<circle cx="451.1" cy="43.9" r="1.3" fill="#1030ff"/>
<circle cx="453.6" cy="43.0" r="1.3" fill="#ffffff"/>
<circle cx="453.8" cy="41.0" r="0.9" fill="#2050ff"/>
<circle cx="455.5" cy="41.1" r="0.9" fill="#ffffff"/>
<circle cx="455.5" cy="38.8" r="0.8" fill="#ffffff"/>
<circle cx="457.0" cy="38.6" r="1.2" fill="#ffffff"/>
<circle cx="457.9" cy="37.6" r="1.3" fill="#40a0ff"/>
<circle cx="461.1" cy="37.6" r="1.0" fill="#1030ff"/>
<circle cx="463.9" cy="37.1" r="1.2" fill="#ffffff"/>
<circle cx="463.7" cy="34.5" r="1.0" fill="#40e0ff"/>
<circle cx="465.3" cy="34.6" r="1.1" fill="#1030ff"/>
<circle cx="466.1" cy="33.4" r="0.8" fill="#ffffff"/>
<circle cx="467.5" cy="33.2" r="1.2" fill="#60ffc0"/>
<circle cx="468.5" cy="33.8" r="0.8" fill="#fff080"/>
<circle cx="469.5" cy="33.0" r="1.1" fill="#ffffff"/>
<circle cx="469.5" cy="30.6" r="0.9" fill="#40a0ff"/>
<circle cx="472.2" cy="27.6" r="1.2" fill="#2050ff"/>
<polyline points="446.0,52.0 462.0,51.0 478.0,52.0 494.0,50.0" fill="none" stroke="#2080ff" stroke-width="4.5" stroke-linecap="round" stroke-linejoin="round" filter="url(#bl1)" opacity="0.9"/>
<circle cx="445.9" cy="50.7" r="0.9" fill="#fff080"/>
<circle cx="447.2" cy="50.1" r="0.9" fill="#ffffff"/>
<circle cx="448.6" cy="51.6" r="1.4" fill="#ffffff"/>
<circle cx="450.0" cy="53.1" r="0.9" fill="#40e0ff"/>
<circle cx="451.3" cy="52.9" r="1.3" fill="#80ff60"/>
<circle cx="452.6" cy="53.1" r="1.0" fill="#40e0ff"/>
<circle cx="453.7" cy="49.6" r="1.5" fill="#40e0ff"/>
<circle cx="455.1" cy="51.7" r="1.0" fill="#ffffff"/>
<circle cx="456.4" cy="51.2" r="1.2" fill="#ffe020"/>
<circle cx="457.6" cy="49.7" r="1.2" fill="#ffe020"/>
<circle cx="459.0" cy="51.6" r="1.4" fill="#ffffff"/>
<circle cx="460.3" cy="51.0" r="1.3" fill="#40e0ff"/>
<circle cx="461.6" cy="50.9" r="1.1" fill="#40e0ff"/>
<circle cx="462.0" cy="51.6" r="1.3" fill="#ffffff"/>
<circle cx="463.4" cy="49.0" r="1.4" fill="#fff080"/>
<circle cx="464.7" cy="49.3" r="1.2" fill="#ff9020"/>
<circle cx="466.0" cy="49.1" r="1.4" fill="#40e0ff"/>
<circle cx="467.3" cy="49.5" r="1.3" fill="#fff080"/>
<circle cx="468.5" cy="51.5" r="1.4" fill="#ffffff"/>
<circle cx="469.8" cy="50.8" r="1.0" fill="#ffffff"/>
<circle cx="471.1" cy="50.6" r="1.5" fill="#ffe020"/>
<circle cx="472.2" cy="53.8" r="1.5" fill="#fff080"/>
<circle cx="473.6" cy="52.4" r="1.4" fill="#fff080"/>
<circle cx="474.9" cy="52.8" r="0.9" fill="#40e0ff"/>
<circle cx="476.1" cy="54.1" r="1.1" fill="#80ff60"/>
<circle cx="477.6" cy="52.2" r="0.8" fill="#fff080"/>
<circle cx="477.7" cy="50.0" r="1.5" fill="#ffe020"/>
<circle cx="479.4" cy="52.5" r="1.4" fill="#80ff60"/>
<circle cx="480.6" cy="52.2" r="1.3" fill="#40e0ff"/>
<circle cx="482.1" cy="53.2" r="0.9" fill="#ffffff"/>
<circle cx="483.1" cy="51.2" r="1.4" fill="#ffffff"/>
<circle cx="484.7" cy="52.8" r="1.1" fill="#ffffff"/>
<circle cx="485.8" cy="51.7" r="1.1" fill="#ff9020"/>
<circle cx="486.9" cy="50.0" r="1.4" fill="#ff9020"/>
<circle cx="488.3" cy="50.4" r="1.1" fill="#ffe020"/>
<circle cx="489.7" cy="50.9" r="1.5" fill="#ffe020"/>
<circle cx="490.6" cy="48.3" r="0.9" fill="#ff9020"/>
<circle cx="492.3" cy="51.1" r="1.1" fill="#ffffff"/>
<circle cx="493.4" cy="49.6" r="1.3" fill="#40e0ff"/>
<polyline points="478.0,42.0 492.0,38.0 506.0,36.0 518.0,34.0 528.0,32.0" fill="none" stroke="#1a50f0" stroke-width="4" stroke-linecap="round" stroke-linejoin="round" filter="url(#bl1)" opacity="0.9"/>
<circle cx="479.2" cy="41.3" r="0.7" fill="#1030ff"/>
<circle cx="480.1" cy="39.9" r="0.6" fill="#2050ff"/>
<circle cx="481.9" cy="41.6" r="1.4" fill="#2050ff"/>
<circle cx="482.6" cy="39.1" r="1.0" fill="#40e0ff"/>
<circle cx="484.0" cy="39.2" r="1.2" fill="#40a0ff"/>
<circle cx="487.0" cy="40.5" r="1.2" fill="#40a0ff"/>
<circle cx="487.5" cy="37.5" r="1.1" fill="#1030ff"/>
<circle cx="489.7" cy="40.4" r="0.8" fill="#2050ff"/>
<circle cx="490.0" cy="36.5" r="0.6" fill="#60ffc0"/>
<circle cx="491.5" cy="37.3" r="1.2" fill="#40a0ff"/>
<circle cx="494.5" cy="36.9" r="1.4" fill="#1030ff"/>
<circle cx="495.7" cy="36.1" r="1.4" fill="#2050ff"/>
<circle cx="497.2" cy="37.8" r="1.1" fill="#1030ff"/>
<circle cx="498.6" cy="38.2" r="1.0" fill="#40e0ff"/>
<circle cx="499.8" cy="37.2" r="0.8" fill="#2050ff"/>
<circle cx="501.1" cy="37.3" r="1.2" fill="#60ffc0"/>
<circle cx="502.4" cy="36.9" r="1.4" fill="#40a0ff"/>
<circle cx="503.5" cy="35.6" r="0.9" fill="#40a0ff"/>
<circle cx="505.0" cy="36.9" r="1.1" fill="#40a0ff"/>
<circle cx="507.0" cy="33.8" r="0.8" fill="#1030ff"/>
<circle cx="508.8" cy="37.2" r="1.2" fill="#2050ff"/>
<circle cx="509.6" cy="33.9" r="1.3" fill="#60ffc0"/>
<circle cx="511.4" cy="37.0" r="1.2" fill="#60ffc0"/>
<circle cx="512.7" cy="36.6" r="0.9" fill="#2050ff"/>
<circle cx="513.7" cy="34.7" r="0.9" fill="#40a0ff"/>
<circle cx="514.7" cy="32.8" r="0.9" fill="#40a0ff"/>
<circle cx="517.2" cy="32.1" r="0.9" fill="#60ffc0"/>
<circle cx="518.2" cy="35.2" r="1.2" fill="#40a0ff"/>
<circle cx="519.3" cy="33.8" r="0.8" fill="#60ffc0"/>
<circle cx="520.6" cy="33.5" r="0.8" fill="#40a0ff"/>
<circle cx="521.6" cy="32.0" r="1.2" fill="#40e0ff"/>
<circle cx="523.0" cy="32.4" r="1.2" fill="#40a0ff"/>
<circle cx="524.7" cy="34.4" r="1.0" fill="#2050ff"/>
<circle cx="525.6" cy="32.3" r="0.7" fill="#40e0ff"/>
<circle cx="526.8" cy="31.6" r="1.0" fill="#2050ff"/>
<polyline points="484.0,31.0 496.0,30.0 510.0,30.0" fill="none" stroke="#30a0ff" stroke-width="4" stroke-linecap="round" stroke-linejoin="round" filter="url(#bl1)" opacity="0.9"/>
<circle cx="483.9" cy="29.8" r="1.3" fill="#ff9020"/>
<circle cx="485.3" cy="31.2" r="0.8" fill="#40a0ff"/>
<circle cx="486.5" cy="29.2" r="1.0" fill="#ff9020"/>
<circle cx="488.0" cy="32.5" r="0.8" fill="#fff080"/>
<circle cx="489.3" cy="32.5" r="0.9" fill="#fff080"/>
<circle cx="490.5" cy="30.7" r="1.3" fill="#40e0ff"/>
<circle cx="491.9" cy="31.7" r="1.3" fill="#40a0ff"/>
<circle cx="493.0" cy="29.8" r="0.7" fill="#fff080"/>
<circle cx="494.4" cy="30.4" r="1.1" fill="#2050ff"/>
<circle cx="495.6" cy="28.8" r="1.3" fill="#80ff60"/>
<circle cx="498.6" cy="28.2" r="0.8" fill="#80ff60"/>
<circle cx="499.9" cy="30.2" r="0.6" fill="#fff080"/>
<circle cx="501.2" cy="30.1" r="1.2" fill="#40a0ff"/>
<circle cx="503.8" cy="28.6" r="1.2" fill="#ffe020"/>
<circle cx="505.1" cy="29.2" r="1.1" fill="#40a0ff"/>
<circle cx="506.4" cy="29.9" r="0.9" fill="#40e0ff"/>
<circle cx="507.7" cy="29.9" r="0.7" fill="#ffe020"/>
<circle cx="509.0" cy="31.7" r="1.3" fill="#40e0ff"/>
<polyline points="492.0,52.0 500.0,58.0 507.0,65.0 512.0,71.0 517.0,78.0" fill="none" stroke="#40a0ff" stroke-width="5" stroke-linecap="round" stroke-linejoin="round" filter="url(#bl1)" opacity="0.9"/>
<circle cx="492.9" cy="50.8" r="0.8" fill="#f0f0ff"/>
<circle cx="492.7" cy="53.3" r="1.1" fill="#40e0ff"/>
<circle cx="494.2" cy="53.3" r="0.9" fill="#ffffff"/>
<circle cx="494.7" cy="54.9" r="1.2" fill="#80e0ff"/>
<circle cx="497.0" cy="54.1" r="0.9" fill="#80e0ff"/>
<circle cx="498.0" cy="54.8" r="0.9" fill="#40e0ff"/>
<circle cx="497.1" cy="58.2" r="1.2" fill="#ffffff"/>
<circle cx="499.5" cy="57.1" r="0.9" fill="#ffe040"/>
<circle cx="500.7" cy="57.3" r="1.5" fill="#ffe040"/>
<circle cx="501.6" cy="58.3" r="1.6" fill="#ffffff"/>
<circle cx="501.8" cy="59.9" r="1.4" fill="#ff9020"/>
<circle cx="503.8" cy="59.7" r="1.2" fill="#ffe040"/>
<circle cx="502.8" cy="62.6" r="1.7" fill="#ffffff"/>
<circle cx="502.8" cy="64.4" r="1.6" fill="#ffffff"/>
<circle cx="505.8" cy="63.2" r="0.9" fill="#40e0ff"/>
<circle cx="507.7" cy="63.2" r="1.4" fill="#ffffff"/>
<circle cx="507.6" cy="64.5" r="0.9" fill="#ffffff"/>
<circle cx="506.1" cy="67.4" r="1.1" fill="#80e0ff"/>
<circle cx="507.1" cy="68.3" r="1.0" fill="#ffe020"/>
<circle cx="508.2" cy="69.1" r="1.3" fill="#f0f0ff"/>
<circle cx="511.5" cy="68.0" r="0.9" fill="#ffffff"/>
<circle cx="510.3" cy="70.7" r="1.5" fill="#ffffff"/>
<circle cx="511.6" cy="71.4" r="1.4" fill="#ff9020"/>
<circle cx="512.8" cy="70.4" r="0.8" fill="#40e0ff"/>
<circle cx="513.1" cy="71.8" r="1.4" fill="#ffffff"/>
<circle cx="514.1" cy="72.7" r="1.1" fill="#80ff60"/>
<circle cx="514.3" cy="74.2" r="0.8" fill="#ff9020"/>
<circle cx="513.5" cy="76.3" r="1.0" fill="#ffffff"/>
<circle cx="513.8" cy="77.7" r="0.8" fill="#40e0ff"/>
<circle cx="516.1" cy="77.6" r="0.8" fill="#fff080"/>
<circle cx="516.5" cy="77.5" r="2.3" fill="#ffd040"/>
<polyline points="535.0,51.0 545.0,53.0 553.0,57.0" fill="none" stroke="#1030e0" stroke-width="3" stroke-linecap="round" stroke-linejoin="round" filter="url(#bl1)" opacity="0.9"/>
<circle cx="537.6" cy="51.1" r="0.8" fill="#4080ff"/>
<circle cx="541.1" cy="53.4" r="0.8" fill="#2050ff"/>
<circle cx="543.9" cy="52.8" r="1.0" fill="#1030ff"/>
<circle cx="544.4" cy="54.3" r="0.8" fill="#1030ff"/>
<circle cx="546.4" cy="53.1" r="1.0" fill="#2050ff"/>
<circle cx="546.8" cy="55.3" r="1.2" fill="#4080ff"/>
<circle cx="548.4" cy="55.0" r="1.1" fill="#1030ff"/>
<circle cx="550.3" cy="56.9" r="1.2" fill="#2050ff"/>
<circle cx="552.0" cy="56.4" r="1.1" fill="#4080ff"/>
<polyline points="452.0,74.0 452.0,84.0" fill="none" stroke="#1030e0" stroke-width="2.5" stroke-linecap="round" stroke-linejoin="round" filter="url(#bl1)" opacity="0.9"/>
<circle cx="452.9" cy="74.0" r="1.3" fill="#1030ff"/>
<circle cx="451.8" cy="76.6" r="1.2" fill="#1030ff"/>
<circle cx="451.7" cy="79.2" r="1.2" fill="#2050ff"/>
<circle cx="450.9" cy="80.5" r="1.2" fill="#4080ff"/>
<circle cx="451.2" cy="81.8" r="1.2" fill="#4080ff"/>
<polyline points="410.0,44.0 428.0,38.0 444.0,33.0" fill="none" stroke="#0a20b0" stroke-width="2.5" stroke-linecap="round" stroke-linejoin="round" filter="url(#bl1)" opacity="0.9"/>
<circle cx="411.2" cy="43.6" r="1.4" fill="#4080ff"/>
<circle cx="412.4" cy="43.0" r="1.1" fill="#4080ff"/>
<circle cx="413.5" cy="42.0" r="0.9" fill="#1030ff"/>
<circle cx="415.9" cy="41.1" r="1.4" fill="#1840e0"/>
<circle cx="422.4" cy="40.2" r="0.8" fill="#4080ff"/>
<circle cx="425.7" cy="37.7" r="0.7" fill="#2050ff"/>
<circle cx="429.1" cy="37.1" r="1.1" fill="#2050ff"/>
<circle cx="430.8" cy="38.3" r="1.3" fill="#4080ff"/>
<circle cx="431.8" cy="37.1" r="1.3" fill="#1840e0"/>
<circle cx="432.7" cy="35.6" r="0.8" fill="#1840e0"/>
<circle cx="435.6" cy="36.2" r="1.2" fill="#4080ff"/>
<circle cx="441.8" cy="34.2" r="1.0" fill="#4080ff"/>
<circle cx="414" cy="182" r="4.4" fill="none" stroke="#1530d0" stroke-width="1.8" filter="url(#bl1)" opacity="0.9"/>
<polyline points="404.0,176.0 420.0,172.0 440.0,176.0" fill="none" stroke="#081890" stroke-width="2" stroke-linecap="round" stroke-linejoin="round" filter="url(#bl1)" opacity="0.6"/>
<circle cx="406.4" cy="174.8" r="0.8" fill="#0a20b0"/>
<circle cx="411.8" cy="175.0" r="0.7" fill="#0a20b0"/>
<circle cx="414.3" cy="174.4" r="0.6" fill="#0a20b0"/>
<circle cx="415.1" cy="172.3" r="0.9" fill="#0a20b0"/>
<circle cx="430.3" cy="173.5" r="0.8" fill="#0a20b0"/>
<polyline points="400.0,192.0 414.0,196.0 428.0,198.0" fill="none" stroke="#1030d0" stroke-width="4" stroke-linecap="round" stroke-linejoin="round" filter="url(#bl1)" opacity="0.8"/>
<circle cx="399.5" cy="193.6" r="0.7" fill="#40c0ff"/>
<circle cx="401.0" cy="193.4" r="1.0" fill="#2050ff"/>
<circle cx="402.0" cy="194.6" r="0.7" fill="#2050ff"/>
<circle cx="405.1" cy="193.0" r="0.9" fill="#2050ff"/>
<circle cx="406.4" cy="193.2" r="0.8" fill="#2050ff"/>
<circle cx="408.0" cy="192.2" r="1.0" fill="#2050ff"/>
<circle cx="409.0" cy="193.7" r="0.9" fill="#40c0ff"/>
<circle cx="410.1" cy="194.4" r="0.7" fill="#2050ff"/>
<circle cx="410.9" cy="196.5" r="1.1" fill="#2050ff"/>
<circle cx="412.6" cy="195.3" r="1.1" fill="#40c0ff"/>
<circle cx="414.0" cy="195.0" r="1.1" fill="#2050ff"/>
<circle cx="415.3" cy="196.3" r="1.2" fill="#2050ff"/>
<circle cx="416.7" cy="195.8" r="1.0" fill="#2050ff"/>
<circle cx="418.1" cy="194.6" r="0.6" fill="#40c0ff"/>
<circle cx="419.2" cy="196.2" r="0.8" fill="#40c0ff"/>
<circle cx="423.0" cy="197.0" r="1.0" fill="#2050ff"/>
<circle cx="424.2" cy="198.4" r="0.7" fill="#2050ff"/>
<circle cx="425.3" cy="199.5" r="1.1" fill="#40c0ff"/>
<circle cx="426.6" cy="199.4" r="1.0" fill="#2050ff"/>
<polyline points="420.0,196.0 436.0,196.0" fill="none" stroke="#1030d0" stroke-width="3" stroke-linecap="round" stroke-linejoin="round" filter="url(#bl1)" opacity="0.7"/>
<circle cx="421.3" cy="196.9" r="0.7" fill="#1030ff"/>
<circle cx="422.6" cy="194.7" r="0.9" fill="#2050ff"/>
<circle cx="423.9" cy="197.5" r="1.0" fill="#2050ff"/>
<circle cx="426.5" cy="194.5" r="1.0" fill="#2050ff"/>
<circle cx="429.1" cy="194.8" r="0.6" fill="#2050ff"/>
<circle cx="430.4" cy="196.0" r="0.9" fill="#4080ff"/>
<circle cx="434.3" cy="194.9" r="0.7" fill="#2050ff"/>
<circle cx="435.6" cy="196.1" r="0.9" fill="#2050ff"/>
<polyline points="420.0,206.0 426.0,212.0 432.0,219.0 440.0,227.4" fill="none" stroke="#1030d0" stroke-width="6.5" stroke-linecap="round" stroke-linejoin="round" filter="url(#bl1)" opacity="0.8"/>
<circle cx="421.5" cy="204.5" r="1.0" fill="#2050ff"/>
<circle cx="419.5" cy="208.3" r="0.6" fill="#40c0ff"/>
<circle cx="421.5" cy="208.2" r="0.7" fill="#80ff80"/>
<circle cx="424.3" cy="207.2" r="0.8" fill="#40c0ff"/>
<circle cx="421.6" cy="211.7" r="0.7" fill="#80ff80"/>
<circle cx="425.1" cy="210.1" r="0.6" fill="#2050ff"/>
<circle cx="423.4" cy="213.6" r="1.0" fill="#80ff80"/>
<circle cx="428.3" cy="210.1" r="1.3" fill="#80ff80"/>
<circle cx="424.9" cy="214.7" r="1.3" fill="#ffe040"/>
<circle cx="428.9" cy="212.9" r="1.3" fill="#40c0ff"/>
<circle cx="429.1" cy="214.5" r="1.2" fill="#80ff80"/>
<circle cx="429.9" cy="215.5" r="1.2" fill="#40c0ff"/>
<circle cx="431.5" cy="215.8" r="0.7" fill="#ffe040"/>
<circle cx="433.5" cy="215.8" r="1.3" fill="#2050ff"/>
<circle cx="433.8" cy="217.3" r="1.0" fill="#2050ff"/>
<circle cx="431.3" cy="219.7" r="1.4" fill="#2050ff"/>
<circle cx="433.6" cy="219.3" r="0.8" fill="#80ff80"/>
<circle cx="434.5" cy="220.2" r="0.9" fill="#ffe040"/>
<circle cx="435.4" cy="221.1" r="0.7" fill="#80ff80"/>
<circle cx="436.7" cy="221.7" r="1.3" fill="#80ff80"/>
<circle cx="436.6" cy="223.6" r="1.2" fill="#80ff80"/>
<circle cx="438.1" cy="224.0" r="1.2" fill="#2050ff"/>
<circle cx="437.9" cy="226.0" r="0.8" fill="#2050ff"/>
<circle cx="440.5" cy="225.3" r="1.0" fill="#80ff80"/>
</g>
<g clip-path="url(#cp4)">
<polyline points="578.0,66.0 592.0,59.0 606.0,51.0 620.0,42.0 632.0,35.0 644.0,28.0" fill="none" stroke="#1030d0" stroke-width="7" stroke-linecap="round" stroke-linejoin="round" filter="url(#bl1)" opacity="0.8"/>
<circle cx="580.1" cy="64.5" r="1.5" fill="#60ffc0"/>
<circle cx="581.8" cy="64.9" r="0.9" fill="#ffe040"/>
<circle cx="583.2" cy="64.8" r="0.8" fill="#ffe040"/>
<circle cx="584.7" cy="64.8" r="1.0" fill="#80ff60"/>
<circle cx="583.9" cy="60.3" r="0.7" fill="#80ff60"/>
<circle cx="585.1" cy="59.9" r="1.4" fill="#40e0ff"/>
<circle cx="588.5" cy="63.8" r="0.8" fill="#40e0ff"/>
<circle cx="589.3" cy="62.4" r="0.9" fill="#80ff60"/>
<circle cx="588.8" cy="58.5" r="0.8" fill="#80ff60"/>
<circle cx="590.3" cy="58.7" r="1.4" fill="#1030ff"/>
<circle cx="593.2" cy="61.4" r="1.4" fill="#40a0ff"/>
<circle cx="592.7" cy="57.5" r="1.3" fill="#80ff60"/>
<circle cx="594.0" cy="57.2" r="1.2" fill="#80ff60"/>
<circle cx="597.1" cy="60.1" r="1.0" fill="#80ff60"/>
<circle cx="595.8" cy="55.2" r="0.9" fill="#60ffc0"/>
<circle cx="598.4" cy="57.1" r="0.7" fill="#2050ff"/>
<circle cx="598.5" cy="54.7" r="1.3" fill="#40a0ff"/>
<circle cx="598.3" cy="51.7" r="0.9" fill="#80ff60"/>
<circle cx="601.2" cy="51.5" r="1.1" fill="#60ffc0"/>
<circle cx="603.1" cy="52.2" r="1.2" fill="#40e0ff"/>
<circle cx="606.5" cy="52.9" r="1.2" fill="#2050ff"/>
<circle cx="607.8" cy="51.5" r="1.5" fill="#80ff60"/>
<circle cx="609.3" cy="51.3" r="0.9" fill="#40e0ff"/>
<circle cx="607.7" cy="46.5" r="1.3" fill="#1030ff"/>
<circle cx="610.4" cy="45.8" r="1.1" fill="#40e0ff"/>
<circle cx="615.3" cy="48.6" r="1.3" fill="#80ff60"/>
<circle cx="616.0" cy="47.4" r="1.2" fill="#60ffc0"/>
<circle cx="616.6" cy="45.8" r="1.0" fill="#60ffc0"/>
<circle cx="618.0" cy="45.6" r="1.1" fill="#40a0ff"/>
<circle cx="618.8" cy="44.5" r="1.3" fill="#40e0ff"/>
<circle cx="617.8" cy="40.6" r="1.3" fill="#40a0ff"/>
<circle cx="619.1" cy="40.5" r="0.7" fill="#40e0ff"/>
<circle cx="619.7" cy="38.9" r="1.2" fill="#40a0ff"/>
<circle cx="623.0" cy="41.9" r="1.2" fill="#40a0ff"/>
<circle cx="621.6" cy="37.0" r="1.3" fill="#40a0ff"/>
<circle cx="624.9" cy="37.5" r="1.4" fill="#40a0ff"/>
<circle cx="625.8" cy="36.5" r="1.2" fill="#2050ff"/>
<circle cx="628.8" cy="39.0" r="0.8" fill="#80ff60"/>
<circle cx="630.7" cy="39.7" r="1.4" fill="#1030ff"/>
<circle cx="628.7" cy="33.8" r="0.9" fill="#40e0ff"/>
<circle cx="629.6" cy="32.7" r="1.4" fill="#40e0ff"/>
<circle cx="632.7" cy="36.2" r="1.1" fill="#2050ff"/>
<circle cx="632.9" cy="34.0" r="1.2" fill="#40e0ff"/>
<circle cx="632.7" cy="31.1" r="0.7" fill="#ffe040"/>
<circle cx="636.2" cy="34.5" r="1.0" fill="#80ff60"/>
<circle cx="635.1" cy="30.0" r="1.1" fill="#1030ff"/>
<circle cx="638.6" cy="33.4" r="1.0" fill="#40e0ff"/>
<circle cx="640.3" cy="31.2" r="1.4" fill="#80ff60"/>
<circle cx="641.5" cy="30.7" r="0.8" fill="#80ff60"/>
<circle cx="643.1" cy="30.8" r="1.4" fill="#40e0ff"/>
<circle cx="644.9" cy="31.2" r="1.1" fill="#80ff60"/>
<polyline points="598.0,61.0 614.0,56.0 630.0,52.0" fill="none" stroke="#80c0ff" stroke-width="4" stroke-linecap="round" stroke-linejoin="round" filter="url(#bl1)" opacity="0.9"/>
<circle cx="598.3" cy="62.1" r="1.3" fill="#80e0ff"/>
<circle cx="599.1" cy="60.2" r="1.1" fill="#ffffff"/>
<circle cx="600.3" cy="59.7" r="1.0" fill="#ffffff"/>
<circle cx="601.4" cy="58.9" r="0.6" fill="#ffffff"/>
<circle cx="603.1" cy="59.9" r="1.3" fill="#80e0ff"/>
<circle cx="603.7" cy="57.3" r="0.8" fill="#f0f0ff"/>
<circle cx="605.0" cy="57.4" r="0.8" fill="#ffe040"/>
<circle cx="606.3" cy="56.9" r="0.8" fill="#ffffff"/>
<circle cx="608.5" cy="59.7" r="0.7" fill="#ffffff"/>
<circle cx="609.1" cy="57.4" r="0.8" fill="#ffffff"/>
<circle cx="610.8" cy="58.4" r="1.3" fill="#ffe040"/>
<circle cx="611.4" cy="55.9" r="1.1" fill="#ffe040"/>
<circle cx="613.4" cy="57.8" r="0.7" fill="#ffffff"/>
<circle cx="614.3" cy="57.3" r="1.3" fill="#ffffff"/>
<circle cx="614.8" cy="53.8" r="1.2" fill="#80e0ff"/>
<circle cx="616.2" cy="54.2" r="0.7" fill="#ffffff"/>
<circle cx="617.7" cy="54.8" r="1.0" fill="#80e0ff"/>
<circle cx="619.5" cy="56.6" r="1.4" fill="#ffe040"/>
<circle cx="620.6" cy="55.6" r="1.2" fill="#ffffff"/>
<circle cx="621.4" cy="53.3" r="1.1" fill="#ffffff"/>
<circle cx="623.0" cy="54.4" r="0.8" fill="#ffffff"/>
<circle cx="624.2" cy="54.0" r="1.3" fill="#ffffff"/>
<circle cx="625.3" cy="53.0" r="0.7" fill="#80e0ff"/>
<circle cx="626.7" cy="53.1" r="1.4" fill="#ffffff"/>
<circle cx="627.9" cy="52.8" r="0.9" fill="#ffffff"/>
<circle cx="629.6" cy="54.0" r="0.8" fill="#80e0ff"/>
<polyline points="628.0,52.0 644.0,51.5 660.0,52.5 676.0,54.0 692.0,55.0 706.0,56.0 714.0,57.5" fill="none" stroke="#c0d8ff" stroke-width="4.5" stroke-linecap="round" stroke-linejoin="round" filter="url(#bl1)" opacity="0.9"/>
<circle cx="628.1" cy="53.6" r="1.0" fill="#ffffff"/>
<circle cx="629.3" cy="52.7" r="1.4" fill="#ffffff"/>
<circle cx="630.6" cy="50.7" r="1.3" fill="#ffffff"/>
<circle cx="632.0" cy="53.7" r="1.3" fill="#f0f0ff"/>
<circle cx="633.2" cy="53.2" r="0.9" fill="#ffe040"/>
<circle cx="634.5" cy="52.8" r="1.4" fill="#ffffff"/>
<circle cx="635.9" cy="53.8" r="1.2" fill="#f0f0ff"/>
<circle cx="637.1" cy="51.2" r="0.9" fill="#ffffff"/>
<circle cx="638.4" cy="52.9" r="0.9" fill="#ffe040"/>
<circle cx="639.7" cy="50.5" r="1.1" fill="#ffffff"/>
<circle cx="641.1" cy="53.6" r="1.2" fill="#ffffff"/>
<circle cx="642.3" cy="51.2" r="1.5" fill="#ffe040"/>
<circle cx="643.6" cy="50.2" r="0.9" fill="#80e0ff"/>
<circle cx="644.1" cy="50.0" r="1.4" fill="#ffffff"/>
<circle cx="645.2" cy="52.6" r="0.8" fill="#ffffff"/>
<circle cx="646.6" cy="51.1" r="1.4" fill="#ffffff"/>
<circle cx="648.0" cy="49.7" r="1.3" fill="#ffffff"/>
<circle cx="649.2" cy="51.0" r="1.3" fill="#ffffff"/>
<circle cx="650.4" cy="52.7" r="1.0" fill="#ffffff"/>
<circle cx="651.9" cy="49.8" r="1.6" fill="#f0f0ff"/>
<circle cx="653.2" cy="49.9" r="0.9" fill="#ffffff"/>
<circle cx="654.4" cy="52.4" r="1.0" fill="#80e0ff"/>
<circle cx="655.6" cy="53.7" r="1.3" fill="#ffffff"/>
<circle cx="656.9" cy="53.2" r="1.4" fill="#f0f0ff"/>
<circle cx="658.3" cy="51.7" r="0.9" fill="#ffe040"/>
<circle cx="659.7" cy="50.4" r="1.5" fill="#ffffff"/>
<circle cx="659.9" cy="53.9" r="1.3" fill="#f0f0ff"/>
<circle cx="661.1" cy="54.7" r="1.4" fill="#f0f0ff"/>
<circle cx="662.4" cy="54.4" r="1.3" fill="#ffffff"/>
<circle cx="663.9" cy="53.0" r="1.0" fill="#ffffff"/>
<circle cx="665.4" cy="50.9" r="0.9" fill="#ffffff"/>
<circle cx="666.5" cy="52.4" r="1.2" fill="#ffffff"/>
<circle cx="667.8" cy="52.5" r="1.2" fill="#ffffff"/>
<circle cx="669.1" cy="53.2" r="1.6" fill="#ffffff"/>
<circle cx="670.3" cy="54.5" r="0.9" fill="#f0f0ff"/>
<circle cx="671.6" cy="53.6" r="1.0" fill="#ffe040"/>
<circle cx="672.9" cy="54.1" r="0.9" fill="#80e0ff"/>
<circle cx="674.2" cy="54.1" r="1.4" fill="#ffffff"/>
<circle cx="675.5" cy="54.6" r="1.3" fill="#ffffff"/>
<circle cx="675.9" cy="55.3" r="1.0" fill="#ffffff"/>
<circle cx="677.4" cy="53.2" r="1.4" fill="#80e0ff"/>
<circle cx="678.5" cy="55.7" r="1.0" fill="#ffe040"/>
<circle cx="679.9" cy="53.5" r="1.4" fill="#80e0ff"/>
<circle cx="681.1" cy="56.5" r="1.2" fill="#ffffff"/>
<circle cx="682.4" cy="55.8" r="1.6" fill="#ffffff"/>
<circle cx="683.9" cy="52.3" r="1.5" fill="#f0f0ff"/>
<circle cx="685.1" cy="54.1" r="1.4" fill="#ffffff"/>
<circle cx="686.5" cy="53.0" r="1.4" fill="#ffffff"/>
<circle cx="687.7" cy="55.0" r="1.5" fill="#ffffff"/>
<circle cx="689.1" cy="53.4" r="1.5" fill="#ffe040"/>
<circle cx="690.2" cy="55.3" r="1.6" fill="#ffffff"/>
<circle cx="691.5" cy="55.8" r="1.4" fill="#ffffff"/>
<circle cx="692.1" cy="54.2" r="0.9" fill="#ffffff"/>
<circle cx="693.2" cy="56.3" r="1.3" fill="#ffffff"/>
<circle cx="694.7" cy="53.9" r="1.1" fill="#ffffff"/>
<circle cx="696.0" cy="54.3" r="1.2" fill="#ffffff"/>
<circle cx="697.1" cy="56.4" r="1.6" fill="#ffe040"/>
<circle cx="698.6" cy="53.5" r="1.5" fill="#ffe040"/>
<circle cx="699.9" cy="53.9" r="1.0" fill="#ffe040"/>
<circle cx="701.2" cy="53.5" r="1.1" fill="#ffffff"/>
<circle cx="702.4" cy="55.0" r="1.4" fill="#80e0ff"/>
<circle cx="703.6" cy="56.3" r="1.4" fill="#ffffff"/>
<circle cx="705.0" cy="55.5" r="0.8" fill="#80e0ff"/>
<circle cx="705.8" cy="57.2" r="1.6" fill="#f0f0ff"/>
<circle cx="707.3" cy="56.1" r="0.8" fill="#ffffff"/>
<circle cx="708.2" cy="58.6" r="0.8" fill="#ffe040"/>
<circle cx="709.6" cy="58.2" r="0.9" fill="#ffffff"/>
<circle cx="711.4" cy="55.4" r="1.4" fill="#ffffff"/>
<circle cx="712.5" cy="56.6" r="1.1" fill="#80e0ff"/>
<circle cx="713.6" cy="57.7" r="1.3" fill="#ffe040"/>
<polyline points="656.0,46.0 666.0,45.0 676.0,44.0" fill="none" stroke="#c0d8ff" stroke-width="4" stroke-linecap="round" stroke-linejoin="round" filter="url(#bl1)" opacity="0.9"/>
<circle cx="655.9" cy="44.9" r="1.1" fill="#80e0ff"/>
<circle cx="657.1" cy="44.0" r="1.1" fill="#80e0ff"/>
<circle cx="658.8" cy="47.6" r="1.0" fill="#ffffff"/>
<circle cx="659.9" cy="45.7" r="0.8" fill="#ffffff"/>
<circle cx="661.2" cy="45.4" r="1.1" fill="#ffffff"/>
<circle cx="662.5" cy="45.9" r="0.9" fill="#ffffff"/>
<circle cx="663.8" cy="45.7" r="0.7" fill="#ffe040"/>
<circle cx="665.1" cy="45.3" r="0.7" fill="#ffe040"/>
<circle cx="665.9" cy="43.6" r="0.7" fill="#80e0ff"/>
<circle cx="667.4" cy="46.0" r="1.0" fill="#ffffff"/>
<circle cx="668.5" cy="43.7" r="1.4" fill="#f0f0ff"/>
<circle cx="670.0" cy="46.3" r="1.3" fill="#f0f0ff"/>
<circle cx="671.1" cy="43.8" r="1.3" fill="#ffffff"/>
<circle cx="672.3" cy="42.4" r="1.2" fill="#f0f0ff"/>
<circle cx="673.7" cy="43.6" r="0.8" fill="#f0f0ff"/>
<circle cx="675.2" cy="45.8" r="1.4" fill="#80e0ff"/>
<polygon points="626.0,50.0 636.0,46.0 648.0,47.0 652.0,52.0 644.0,57.0 630.0,57.0" fill="#f4f6ff" filter="url(#bl1)" opacity="0.95"/>
<polyline points="664.0,48.0 672.0,44.0 680.0,40.0" fill="none" stroke="#e0e8ff" stroke-width="3.5" stroke-linecap="round" stroke-linejoin="round" filter="url(#bl1)" opacity="0.9"/>
<circle cx="663.3" cy="46.5" r="0.6" fill="#80e0ff"/>
<circle cx="664.7" cy="46.6" r="0.8" fill="#ffe040"/>
<circle cx="666.0" cy="46.1" r="1.3" fill="#f0f0ff"/>
<circle cx="667.6" cy="46.5" r="0.7" fill="#ffe040"/>
<circle cx="669.1" cy="46.5" r="1.4" fill="#ffffff"/>
<circle cx="669.5" cy="44.4" r="0.9" fill="#f0f0ff"/>
<circle cx="670.6" cy="43.7" r="0.9" fill="#ffe040"/>
<circle cx="671.9" cy="43.9" r="1.1" fill="#ffe040"/>
<circle cx="673.8" cy="44.6" r="0.9" fill="#ffe040"/>
<circle cx="674.2" cy="42.6" r="0.9" fill="#ffffff"/>
<circle cx="675.2" cy="41.6" r="0.6" fill="#ffffff"/>
<circle cx="677.3" cy="43.0" r="0.7" fill="#ffffff"/>
<circle cx="678.2" cy="41.8" r="0.7" fill="#ffffff"/>
<circle cx="678.8" cy="40.2" r="0.9" fill="#80e0ff"/>
<polyline points="660.0,40.0 662.0,34.0 664.0,29.0" fill="none" stroke="#1030e0" stroke-width="3" stroke-linecap="round" stroke-linejoin="round" filter="url(#bl1)" opacity="0.9"/>
<circle cx="660.9" cy="34.8" r="1.2" fill="#2050ff"/>
<circle cx="662.0" cy="34.0" r="0.8" fill="#1840e0"/>
<circle cx="663.1" cy="33.0" r="0.6" fill="#4080ff"/>
<circle cx="661.9" cy="31.2" r="1.4" fill="#1030ff"/>
<circle cx="662.1" cy="29.8" r="0.8" fill="#ffe040"/>
<circle cx="664.6" cy="29.4" r="1.0" fill="#2050ff"/>
<polyline points="648.0,60.0 654.0,64.0 658.0,70.0" fill="none" stroke="#2070ff" stroke-width="7" stroke-linecap="round" stroke-linejoin="round" filter="url(#bl1)" opacity="0.9"/>
<circle cx="646.7" cy="62.0" r="1.6" fill="#ffe020"/>
<circle cx="650.2" cy="59.1" r="1.6" fill="#40e0ff"/>
<circle cx="651.0" cy="60.1" r="0.9" fill="#ff9020"/>
<circle cx="649.4" cy="64.9" r="1.0" fill="#fff080"/>
<circle cx="652.1" cy="63.2" r="1.1" fill="#fff080"/>
<circle cx="655.2" cy="60.9" r="1.2" fill="#ff9020"/>
<circle cx="652.9" cy="64.7" r="1.6" fill="#ff9020"/>
<circle cx="655.8" cy="64.4" r="1.1" fill="#80ff60"/>
<circle cx="656.1" cy="65.7" r="1.1" fill="#80ff60"/>
<circle cx="655.4" cy="67.8" r="1.0" fill="#1030ff"/>
<circle cx="658.3" cy="67.4" r="1.3" fill="#40a0ff"/>
<circle cx="655.7" cy="70.7" r="1.3" fill="#ffe020"/>
<polyline points="640.0,60.0 644.0,66.0" fill="none" stroke="#1030e0" stroke-width="3" stroke-linecap="round" stroke-linejoin="round" filter="url(#bl1)" opacity="0.9"/>
<circle cx="641.7" cy="63.6" r="0.9" fill="#1840e0"/>
<circle cx="643.3" cy="64.0" r="1.4" fill="#2050ff"/>
<circle cx="643.2" cy="65.7" r="1.0" fill="#4080ff"/>
<polyline points="700.0,60.0 706.0,66.0 712.0,74.0" fill="none" stroke="#0a20b0" stroke-width="2.4" stroke-linecap="round" stroke-linejoin="round" filter="url(#bl1)" opacity="0.9"/>
<circle cx="701.6" cy="62.1" r="1.2" fill="#1840e0"/>
<circle cx="703.5" cy="62.0" r="1.4" fill="#4080ff"/>
<circle cx="705.3" cy="65.7" r="1.0" fill="#1030ff"/>
<circle cx="706.9" cy="68.6" r="1.3" fill="#4080ff"/>
<circle cx="709.7" cy="69.8" r="0.7" fill="#4080ff"/>
<polyline points="680.0,72.0 684.0,80.0" fill="none" stroke="#1030e0" stroke-width="2.4" stroke-linecap="round" stroke-linejoin="round" filter="url(#bl1)" opacity="0.9"/>
<circle cx="680.7" cy="71.6" r="1.3" fill="#1840e0"/>
<circle cx="679.6" cy="73.6" r="1.3" fill="#2050ff"/>
<circle cx="681.5" cy="74.2" r="1.3" fill="#1840e0"/>
<circle cx="682.5" cy="75.1" r="0.8" fill="#2050ff"/>
<circle cx="682.0" cy="76.8" r="1.0" fill="#4080ff"/>
<circle cx="683.8" cy="77.4" r="0.9" fill="#1840e0"/>
<polyline points="622.0,78.0 624.0,86.0" fill="none" stroke="#1030e0" stroke-width="2.4" stroke-linecap="round" stroke-linejoin="round" filter="url(#bl1)" opacity="0.9"/>
<circle cx="622.1" cy="78.0" r="1.2" fill="#1030ff"/>
<circle cx="623.2" cy="79.0" r="1.0" fill="#1030ff"/>
<circle cx="623.4" cy="84.3" r="0.6" fill="#4080ff"/>
<circle cx="624.6" cy="85.4" r="1.2" fill="#4080ff"/>
<circle cx="592" cy="184" r="4.6" fill="none" stroke="#1530d0" stroke-width="1.8" filter="url(#bl1)" opacity="0.9"/>
<polyline points="580.0,178.0 600.0,172.0 618.0,178.0" fill="none" stroke="#0a20b0" stroke-width="2.5" stroke-linecap="round" stroke-linejoin="round" filter="url(#bl1)" opacity="0.7"/>
<circle cx="581.1" cy="177.1" r="0.7" fill="#1840e0"/>
<circle cx="583.7" cy="176.7" r="0.9" fill="#4080ff"/>
<circle cx="587.1" cy="174.7" r="0.9" fill="#1840e0"/>
<circle cx="588.8" cy="175.6" r="0.6" fill="#1030ff"/>
<circle cx="590.0" cy="175.2" r="1.0" fill="#1030ff"/>
<circle cx="594.7" cy="172.8" r="0.9" fill="#2050ff"/>
<circle cx="597.5" cy="172.8" r="0.7" fill="#2050ff"/>
<circle cx="598.7" cy="172.5" r="1.0" fill="#1840e0"/>
<circle cx="599.9" cy="172.0" r="0.9" fill="#1840e0"/>
<circle cx="600.3" cy="171.1" r="0.9" fill="#2050ff"/>
<circle cx="604.1" cy="172.1" r="0.8" fill="#4080ff"/>
<circle cx="607.6" cy="173.8" r="0.5" fill="#2050ff"/>
<circle cx="609.0" cy="173.9" r="0.9" fill="#1840e0"/>
<circle cx="609.7" cy="175.7" r="0.9" fill="#1840e0"/>
<circle cx="616.1" cy="177.1" r="0.5" fill="#1030ff"/>
<circle cx="617.5" cy="177.0" r="1.0" fill="#1030ff"/>
<polyline points="578.0,192.0 594.0,196.0 608.0,198.0" fill="none" stroke="#1030d0" stroke-width="4" stroke-linecap="round" stroke-linejoin="round" filter="url(#bl1)" opacity="0.8"/>
<circle cx="579.5" cy="191.4" r="0.8" fill="#2050ff"/>
<circle cx="580.7" cy="191.8" r="0.8" fill="#2050ff"/>
<circle cx="582.0" cy="192.2" r="0.7" fill="#2050ff"/>
<circle cx="585.9" cy="192.7" r="0.6" fill="#ffffff"/>
<circle cx="586.4" cy="195.9" r="1.0" fill="#ffffff"/>
<circle cx="588.2" cy="194.0" r="1.1" fill="#40c0ff"/>
<circle cx="589.1" cy="195.6" r="1.0" fill="#ffffff"/>
<circle cx="590.6" cy="195.3" r="0.8" fill="#ffffff"/>
<circle cx="593.4" cy="194.7" r="0.9" fill="#40c0ff"/>
<circle cx="593.8" cy="197.2" r="1.0" fill="#2050ff"/>
<circle cx="595.2" cy="197.1" r="0.7" fill="#40c0ff"/>
<circle cx="596.6" cy="196.1" r="1.0" fill="#40c0ff"/>
<circle cx="597.6" cy="198.1" r="1.1" fill="#2050ff"/>
<circle cx="598.9" cy="198.4" r="0.9" fill="#40c0ff"/>
<circle cx="600.3" cy="197.6" r="1.0" fill="#2050ff"/>
<circle cx="603.2" cy="195.9" r="1.1" fill="#ffffff"/>
<circle cx="604.5" cy="195.9" r="0.7" fill="#40c0ff"/>
<circle cx="606.8" cy="198.5" r="0.8" fill="#2050ff"/>
<polyline points="582.0,186.0 596.0,190.0" fill="none" stroke="#1030d0" stroke-width="3" stroke-linecap="round" stroke-linejoin="round" filter="url(#bl1)" opacity="0.7"/>
<circle cx="583.6" cy="185.1" r="1.0" fill="#2050ff"/>
<circle cx="584.5" cy="186.6" r="1.1" fill="#4080ff"/>
<circle cx="588.4" cy="187.1" r="0.9" fill="#1030ff"/>
<circle cx="589.3" cy="189.0" r="1.2" fill="#1840e0"/>
<circle cx="592.3" cy="187.9" r="0.8" fill="#2050ff"/>
<circle cx="593.5" cy="188.2" r="0.7" fill="#4080ff"/>
<circle cx="595.5" cy="190.9" r="0.7" fill="#1030ff"/>
<polyline points="600.0,206.0 606.0,212.0 612.0,219.0 620.0,227.4" fill="none" stroke="#1030d0" stroke-width="6.5" stroke-linecap="round" stroke-linejoin="round" filter="url(#bl1)" opacity="0.8"/>
<circle cx="602.8" cy="206.9" r="0.8" fill="#2050ff"/>
<circle cx="605.6" cy="209.6" r="0.8" fill="#80e0ff"/>
<circle cx="607.4" cy="209.6" r="0.7" fill="#2050ff"/>
<circle cx="604.7" cy="213.1" r="1.2" fill="#80e0ff"/>
<circle cx="607.2" cy="214.4" r="1.3" fill="#2050ff"/>
<circle cx="610.3" cy="213.5" r="0.8" fill="#40c0ff"/>
<circle cx="609.6" cy="215.7" r="0.8" fill="#80e0ff"/>
<circle cx="612.2" cy="215.3" r="1.2" fill="#40c0ff"/>
<circle cx="611.3" cy="217.7" r="1.1" fill="#40c0ff"/>
<circle cx="611.5" cy="219.3" r="0.9" fill="#40c0ff"/>
<circle cx="611.6" cy="219.4" r="0.9" fill="#80e0ff"/>
<circle cx="612.5" cy="220.3" r="0.8" fill="#2050ff"/>
<circle cx="612.7" cy="221.9" r="0.9" fill="#80e0ff"/>
<circle cx="614.0" cy="224.3" r="1.2" fill="#2050ff"/>
<circle cx="617.6" cy="222.6" r="0.7" fill="#40c0ff"/>
<circle cx="617.4" cy="224.6" r="1.0" fill="#40c0ff"/>
<circle cx="619.5" cy="224.5" r="1.0" fill="#40c0ff"/>
<circle cx="619.8" cy="225.9" r="0.7" fill="#2050ff"/>
</g>
<defs><radialGradient id="gbg" cx="0.1" cy="0.65" r="0.8"><stop offset="0" stop-color="#082008"/><stop offset="0.35" stop-color="#030d03"/><stop offset="1" stop-color="#010501"/></radialGradient></defs>
<rect x="39.3" y="232.7" width="173.5" height="102.2" fill="url(#gbg)"/>
<rect x="216.2" y="232.7" width="173.1" height="102.2" fill="url(#gbg)"/>
<rect x="392.9" y="232.7" width="172.1" height="102.2" fill="url(#gbg)"/>
<rect x="568.5" y="232.7" width="174.5" height="102.2" fill="url(#gbg)"/>
<rect x="742" y="257.7" width="3" height="77.2" fill="#010501"/>
<g clip-path="url(#gp1)">
<ellipse cx="45.3" cy="300" rx="19.2" ry="22" fill="#0a300a" filter="url(#bl4)" opacity="0.7"/>
<polyline points="39.3,276.0 45.3,272.0 53.3,279.0 61.3,277.0 71.3,284.0" fill="none" stroke="#2ac02a" stroke-width="1.1" stroke-linecap="round" stroke-linejoin="round" filter="url(#bl1)" opacity="0.7"/>
<polyline points="41.3,290.0 49.3,295.0 59.3,289.0 66.5,296.0" fill="none" stroke="#2ac02a" stroke-width="1.1" stroke-linecap="round" stroke-linejoin="round" filter="url(#bl1)" opacity="0.7"/>
<polyline points="48.3,279.0 52.3,289.0 50.3,299.0 57.3,305.0" fill="none" stroke="#2ac02a" stroke-width="1.1" stroke-linecap="round" stroke-linejoin="round" filter="url(#bl1)" opacity="0.7"/>
<polyline points="59.3,278.0 64.3,291.0 67.3,302.0" fill="none" stroke="#2ac02a" stroke-width="1.1" stroke-linecap="round" stroke-linejoin="round" filter="url(#bl1)" opacity="0.7"/>
<polyline points="61.7,281.0 68.1,287.0 64.9,297.0 58.5,300.0" fill="none" stroke="#2ac02a" stroke-width="1.1" stroke-linecap="round" stroke-linejoin="round" filter="url(#bl1)" opacity="0.7"/>
<polyline points="42.3,298.0 46.3,306.0 41.3,314.0" fill="none" stroke="#2ac02a" stroke-width="1.1" stroke-linecap="round" stroke-linejoin="round" filter="url(#bl1)" opacity="0.7"/>
<polyline points="40.1,276.0 41.8,288.0 40.3,298.0 40.8,312.0" fill="none" stroke="#30d830" stroke-width="2.2" stroke-linecap="round" stroke-linejoin="round" filter="url(#bl1)" opacity="0.8"/>
<polygon points="43.3,306.0 49.3,304.0 55.3,307.0 53.3,313.0 46.3,313.0" fill="#2ee82e" filter="url(#bl1)" opacity="0.85"/>
<polygon points="38.3,313.0 44.3,316.0 52.3,324.0 62.3,336.0 48.3,336.0 42.3,325.0 38.3,320.0" fill="#2cf02c" filter="url(#bl2)" opacity="0.95"/>
<polyline points="67.3,287.0 83.3,285.0 101.3,281.0 129.3,278.5 164.3,277.5" fill="none" stroke="#1f8a1f" stroke-width="1.1" stroke-linecap="round" stroke-linejoin="round" filter="url(#bl1)" opacity="0.8"/>
<circle cx="84.3" cy="285.5" r="2.4" fill="#2aa82a" filter="url(#bl1)"/>
<circle cx="205.3" cy="284.5" r="1.8" fill="#1f8a1f" filter="url(#bl1)"/>
</g>
<g clip-path="url(#gp2)">
<ellipse cx="222.2" cy="300" rx="16.8" ry="22" fill="#0a300a" filter="url(#bl4)" opacity="0.7"/>
<polyline points="216.2,276.0 222.2,272.0 230.2,279.0 238.2,277.0 244.2,284.0" fill="none" stroke="#2ac02a" stroke-width="1.1" stroke-linecap="round" stroke-linejoin="round" filter="url(#bl1)" opacity="0.7"/>
<polyline points="218.2,290.0 226.2,295.0 236.2,289.0 240.0,296.0" fill="none" stroke="#2ac02a" stroke-width="1.1" stroke-linecap="round" stroke-linejoin="round" filter="url(#bl1)" opacity="0.7"/>
<polyline points="225.2,279.0 229.2,289.0 227.2,299.0 234.2,305.0" fill="none" stroke="#2ac02a" stroke-width="1.1" stroke-linecap="round" stroke-linejoin="round" filter="url(#bl1)" opacity="0.7"/>
<polyline points="236.2,278.0 241.2,291.0 244.2,302.0" fill="none" stroke="#2ac02a" stroke-width="1.1" stroke-linecap="round" stroke-linejoin="round" filter="url(#bl1)" opacity="0.7"/>
<polyline points="235.8,281.0 241.4,287.0 238.6,297.0 233.0,300.0" fill="none" stroke="#2ac02a" stroke-width="1.1" stroke-linecap="round" stroke-linejoin="round" filter="url(#bl1)" opacity="0.7"/>
<polyline points="219.2,298.0 223.2,306.0 218.2,314.0" fill="none" stroke="#2ac02a" stroke-width="1.1" stroke-linecap="round" stroke-linejoin="round" filter="url(#bl1)" opacity="0.7"/>
<polyline points="217.0,276.0 218.7,288.0 217.2,298.0 217.7,312.0" fill="none" stroke="#30d830" stroke-width="2.2" stroke-linecap="round" stroke-linejoin="round" filter="url(#bl1)" opacity="0.8"/>
<polygon points="220.2,306.0 226.2,304.0 232.2,307.0 230.2,313.0 223.2,313.0" fill="#2ee82e" filter="url(#bl1)" opacity="0.85"/>
<polygon points="215.2,314.0 220.2,318.0 227.2,327.0 233.2,336.0 225.2,336.0 219.2,327.0 215.2,322.0" fill="#2cf02c" filter="url(#bl2)" opacity="0.9"/>
<polyline points="244.2,287.0 260.2,285.0 278.2,281.0 306.2,278.5 341.2,277.5" fill="none" stroke="#1f8a1f" stroke-width="1.1" stroke-linecap="round" stroke-linejoin="round" filter="url(#bl1)" opacity="0.8"/>
<circle cx="261.2" cy="285.5" r="2.4" fill="#2aa82a" filter="url(#bl1)"/>
<circle cx="382.2" cy="284.5" r="1.8" fill="#1f8a1f" filter="url(#bl1)"/>
</g>
<g clip-path="url(#gp3)">
<ellipse cx="398.9" cy="300" rx="21.599999999999998" ry="22" fill="#0a300a" filter="url(#bl4)" opacity="0.7"/>
<polyline points="392.9,276.0 398.9,272.0 406.9,279.0 414.9,277.0 428.9,284.0" fill="none" stroke="#2ac02a" stroke-width="1.1" stroke-linecap="round" stroke-linejoin="round" filter="url(#bl1)" opacity="0.7"/>
<polyline points="394.9,290.0 402.9,295.0 412.9,289.0 423.5,296.0" fill="none" stroke="#2ac02a" stroke-width="1.1" stroke-linecap="round" stroke-linejoin="round" filter="url(#bl1)" opacity="0.7"/>
<polyline points="401.9,279.0 405.9,289.0 403.9,299.0 410.9,305.0" fill="none" stroke="#2ac02a" stroke-width="1.1" stroke-linecap="round" stroke-linejoin="round" filter="url(#bl1)" opacity="0.7"/>
<polyline points="412.9,278.0 417.9,291.0 420.9,302.0" fill="none" stroke="#2ac02a" stroke-width="1.1" stroke-linecap="round" stroke-linejoin="round" filter="url(#bl1)" opacity="0.7"/>
<polyline points="418.1,281.0 425.3,287.0 421.7,297.0 414.5,300.0" fill="none" stroke="#2ac02a" stroke-width="1.1" stroke-linecap="round" stroke-linejoin="round" filter="url(#bl1)" opacity="0.7"/>
<polyline points="395.9,298.0 399.9,306.0 394.9,314.0" fill="none" stroke="#2ac02a" stroke-width="1.1" stroke-linecap="round" stroke-linejoin="round" filter="url(#bl1)" opacity="0.7"/>
<polyline points="393.7,276.0 395.4,288.0 393.9,298.0 394.4,312.0" fill="none" stroke="#30d830" stroke-width="2.2" stroke-linecap="round" stroke-linejoin="round" filter="url(#bl1)" opacity="0.8"/>
<polygon points="396.9,306.0 402.9,304.0 408.9,307.0 406.9,313.0 399.9,313.0" fill="#2ee82e" filter="url(#bl1)" opacity="0.85"/>
<polygon points="391.9,314.0 396.9,318.0 403.9,327.0 409.9,336.0 401.9,336.0 395.9,327.0 391.9,322.0" fill="#2cf02c" filter="url(#bl2)" opacity="0.9"/>
<polyline points="420.9,287.0 436.9,285.0 454.9,281.0 482.9,278.5 517.9,277.5" fill="none" stroke="#1f8a1f" stroke-width="1.1" stroke-linecap="round" stroke-linejoin="round" filter="url(#bl1)" opacity="0.8"/>
<circle cx="437.9" cy="285.5" r="2.4" fill="#2aa82a" filter="url(#bl1)"/>
<circle cx="558.9" cy="284.5" r="1.8" fill="#1f8a1f" filter="url(#bl1)"/>
</g>
<g clip-path="url(#gp4)">
<ellipse cx="574.5" cy="300" rx="24.0" ry="22" fill="#0a300a" filter="url(#bl4)" opacity="0.7"/>
<polyline points="568.5,276.0 574.5,272.0 582.5,279.0 590.5,277.0 608.5,284.0" fill="none" stroke="#2ac02a" stroke-width="1.1" stroke-linecap="round" stroke-linejoin="round" filter="url(#bl1)" opacity="0.7"/>
<polyline points="570.5,290.0 578.5,295.0 588.5,289.0 602.5,296.0" fill="none" stroke="#2ac02a" stroke-width="1.1" stroke-linecap="round" stroke-linejoin="round" filter="url(#bl1)" opacity="0.7"/>
<polyline points="577.5,279.0 581.5,289.0 579.5,299.0 586.5,305.0" fill="none" stroke="#2ac02a" stroke-width="1.1" stroke-linecap="round" stroke-linejoin="round" filter="url(#bl1)" opacity="0.7"/>
<polyline points="588.5,278.0 593.5,291.0 596.5,302.0" fill="none" stroke="#2ac02a" stroke-width="1.1" stroke-linecap="round" stroke-linejoin="round" filter="url(#bl1)" opacity="0.7"/>
<polyline points="596.5,281.0 604.5,287.0 600.5,297.0 592.5,300.0" fill="none" stroke="#2ac02a" stroke-width="1.1" stroke-linecap="round" stroke-linejoin="round" filter="url(#bl1)" opacity="0.7"/>
<polyline points="571.5,298.0 575.5,306.0 570.5,314.0" fill="none" stroke="#2ac02a" stroke-width="1.1" stroke-linecap="round" stroke-linejoin="round" filter="url(#bl1)" opacity="0.7"/>
<polyline points="569.3,276.0 571.0,288.0 569.5,298.0 570.0,312.0" fill="none" stroke="#30d830" stroke-width="2.2" stroke-linecap="round" stroke-linejoin="round" filter="url(#bl1)" opacity="0.8"/>
<polygon points="572.5,306.0 578.5,304.0 584.5,307.0 582.5,313.0 575.5,313.0" fill="#2ee82e" filter="url(#bl1)" opacity="0.85"/>
<polygon points="567.5,314.0 572.5,318.0 579.5,327.0 585.5,336.0 577.5,336.0 571.5,327.0 567.5,322.0" fill="#2cf02c" filter="url(#bl2)" opacity="0.9"/>
<polyline points="596.5,287.0 612.5,285.0 630.5,281.0 658.5,278.5 693.5,277.5" fill="none" stroke="#1f8a1f" stroke-width="1.1" stroke-linecap="round" stroke-linejoin="round" filter="url(#bl1)" opacity="0.8"/>
<circle cx="613.5" cy="285.5" r="2.4" fill="#2aa82a" filter="url(#bl1)"/>
<circle cx="734.5" cy="284.5" r="1.8" fill="#1f8a1f" filter="url(#bl1)"/>
</g>
<circle cx="90.5" cy="245" r="1.3" fill="#1e6a1e" filter="url(#bl1)"/>
<circle cx="84.5" cy="248" r="1.3" fill="#1e6a1e" filter="url(#bl1)"/>
<circle cx="92" cy="254" r="1.3" fill="#1e6a1e" filter="url(#bl1)"/>
<circle cx="88" cy="259" r="1.3" fill="#1e6a1e" filter="url(#bl1)"/>
<circle cx="264" cy="249" r="1.3" fill="#1e6a1e" filter="url(#bl1)"/>
<circle cx="258" cy="253" r="1.3" fill="#1e6a1e" filter="url(#bl1)"/>
<circle cx="262" cy="258" r="1.3" fill="#1e6a1e" filter="url(#bl1)"/>
<circle cx="436" cy="259" r="1.3" fill="#1e6a1e" filter="url(#bl1)"/>
<circle cx="430" cy="263" r="1.3" fill="#1e6a1e" filter="url(#bl1)"/>
<circle cx="612" cy="254" r="1.3" fill="#1e6a1e" filter="url(#bl1)"/>
<circle cx="606" cy="258" r="1.3" fill="#1e6a1e" filter="url(#bl1)"/>
<circle cx="610" cy="263" r="1.3" fill="#1e6a1e" filter="url(#bl1)"/>
<ellipse cx="181.4" cy="315.5" rx="3" ry="1.8" fill="#1e7a1e" filter="url(#bl1)"/>
<ellipse cx="357.4" cy="316" rx="3" ry="1.8" fill="#1e7a1e" filter="url(#bl1)"/>
<ellipse cx="535.1" cy="311.5" rx="3" ry="1.8" fill="#1e7a1e" filter="url(#bl1)"/>
<ellipse cx="710.7" cy="312.5" rx="3" ry="1.8" fill="#1e7a1e" filter="url(#bl1)"/>
<line x1="49" y1="133" x2="191.5" y2="133" stroke="#fff" stroke-width="3.2" stroke-dasharray="9.2 7.4"/>
<line x1="228.4" y1="133" x2="370.5" y2="133" stroke="#fff" stroke-width="3.2" stroke-dasharray="9.2 7.4"/>
<line x1="405.1" y1="133" x2="547.5" y2="133" stroke="#fff" stroke-width="3.2" stroke-dasharray="9.2 7.4"/>
<line x1="579" y1="133" x2="688.5" y2="133" stroke="#fff" stroke-width="3.2" stroke-dasharray="9.2 7.4"/>
<text x="42.0" y="48.3" font-size="17.6" font-weight="bold" fill="#fff">0 min</text>
<text x="220.3" y="48.3" font-size="17.6" font-weight="bold" fill="#fff">15 min</text>
<text x="395.8" y="48.3" font-size="17.6" font-weight="bold" fill="#fff">30 min</text>
<text x="569.6" y="48.3" font-size="17.6" font-weight="bold" fill="#fff">45 min</text>
<circle cx="125.0" cy="53.8" r="5.4" fill="#ee1c1c"/>
<circle cx="300.6" cy="53.1" r="5.4" fill="#ee1c1c"/>
<circle cx="477.2" cy="53.1" r="5.4" fill="#ee1c1c"/>
<circle cx="657.3" cy="52.7" r="5.4" fill="#ee1c1c"/>
<polygon points="63.9,71.3 59.2,81.8 68.6,81.8" fill="#ee1c1c"/>
<text x="45.1" y="84.9" font-size="18" font-weight="bold" fill="#ee1c1c">3</text>
<polygon points="183.8,71.3 179.1,81.8 188.5,81.8" fill="#ee1c1c"/>
<text x="194.0" y="84.9" font-size="18" font-weight="bold" fill="#ee1c1c">1</text>
<polygon points="137.3,101.0 132.6,111.5 142.0,111.5" fill="#ee1c1c"/>
<text x="143.79999999999998" y="120.1" font-size="18" font-weight="bold" fill="#ee1c1c">2</text>
<polygon points="257.0,59.9 252.3,70.4 261.7,70.4" fill="#ee1c1c"/>
<text x="241.0" y="76.9" font-size="18" font-weight="bold" fill="#ee1c1c">3</text>
<polygon points="356.7,60.6 352.0,71.1 361.4,71.1" fill="#ee1c1c"/>
<text x="369.0" y="72.7" font-size="18" font-weight="bold" fill="#ee1c1c">1</text>
<polygon points="326.2,90.4 321.5,100.9 330.9,100.9" fill="#ee1c1c"/>
<text x="307.0" y="109.5" font-size="18" font-weight="bold" fill="#ee1c1c">2</text>
<polygon points="467.0,54.8 462.3,65.3 471.7,65.3" fill="#ee1c1c"/>
<text x="451.20000000000005" y="71.5" font-size="18" font-weight="bold" fill="#ee1c1c">3</text>
<polygon points="544.7,62.2 540.0,72.7 549.4,72.7" fill="#ee1c1c"/>
<text x="555.3000000000001" y="73.9" font-size="18" font-weight="bold" fill="#ee1c1c">1</text>
<polygon points="526.5,85.4 515.7,81.5 515.7,89.3" fill="#ee1c1c"/>
<text x="502.8" y="99.5" font-size="18" font-weight="bold" fill="#ee1c1c">2</text>
<polygon points="636.3,57.7 631.6,68.2 641.0,68.2" fill="#ee1c1c"/>
<text x="622.2" y="76.7" font-size="18" font-weight="bold" fill="#ee1c1c">3</text>
<polygon points="692.3,60.9 703.5,56.5 703.5,65.3" fill="#ee1c1c"/>
<text x="705.6" y="74.4" font-size="18" font-weight="bold" fill="#ee1c1c">1</text>
<polygon points="664.1,76.3 675.3,71.9 675.3,80.7" fill="#ee1c1c"/>
<text x="656.6" y="87.3" font-size="18" font-weight="bold" fill="#ee1c1c">2</text>
<polygon points="111.9,153.3 122.9,149.0 122.9,157.6" fill="#36ee36"/>
<text x="125.39999999999999" y="161.9" font-size="18" font-weight="bold" fill="#36ee36">2</text>
<polygon points="73.8,196.4 84.8,192.1 84.8,200.7" fill="#36ee36"/>
<text x="92.19999999999999" y="202.2" font-size="18" font-weight="bold" fill="#36ee36">3</text>
<polygon points="184.8,203.8 180.4,213.7 189.2,213.7" fill="#36ee36"/>
<text x="195.2" y="215.3" font-size="18" font-weight="bold" fill="#36ee36">1</text>
<polygon points="281.6,158.3 292.6,154.0 292.6,162.6" fill="#36ee36"/>
<text x="295.40000000000003" y="163.9" font-size="18" font-weight="bold" fill="#36ee36">2</text>
<polygon points="252.6,195.0 263.6,190.7 263.6,199.3" fill="#36ee36"/>
<text x="269.3" y="201.1" font-size="18" font-weight="bold" fill="#36ee36">3</text>
<polygon points="364.4,203.0 360.0,212.9 368.8,212.9" fill="#36ee36"/>
<text x="374.1" y="212.3" font-size="18" font-weight="bold" fill="#36ee36">1</text>
<polygon points="463.8,172.3 474.8,168.0 474.8,176.6" fill="#36ee36"/>
<text x="477.20000000000005" y="179.3" font-size="18" font-weight="bold" fill="#36ee36">2</text>
<polygon points="441.1,195.0 452.1,190.7 452.1,199.3" fill="#36ee36"/>
<text x="458.8" y="201.1" font-size="18" font-weight="bold" fill="#36ee36">3</text>
<polygon points="541.2,208.2 536.8,218.1 545.6,218.1" fill="#36ee36"/>
<text x="551.3000000000001" y="222.8" font-size="18" font-weight="bold" fill="#36ee36">1</text>
<polygon points="625.4,168.0 636.4,163.7 636.4,172.3" fill="#36ee36"/>
<text x="640.1" y="175.6" font-size="18" font-weight="bold" fill="#36ee36">2</text>
<polygon points="611.8,196.2 622.8,191.9 622.8,200.5" fill="#36ee36"/>
<text x="628.6" y="203.8" font-size="18" font-weight="bold" fill="#36ee36">3</text>
<polygon points="718.7,189.8 728.9,185.8 728.9,193.8" fill="#36ee36"/>
<text x="730.3000000000001" y="189.7" font-size="18" font-weight="bold" fill="#36ee36">1</text>
<polygon points="91.3,248.9 102.8,244.4 102.8,253.4" fill="#36ee36"/>
<text x="105.5" y="254.7" font-size="18" font-weight="bold" fill="#36ee36">2</text>
<polygon points="58.8,309.4 70.3,304.9 70.3,313.9" fill="#36ee36"/>
<text x="73.0" y="315.2" font-size="18" font-weight="bold" fill="#36ee36">3</text>
<text x="176.5" y="294.9" font-size="18" font-weight="bold" fill="#36ee36">1</text>
<polygon points="181.4,309.6 176.7,299.1 186.1,299.1" fill="#36ee36"/>
<polygon points="265.7,253.3 277.2,248.8 277.2,257.8" fill="#36ee36"/>
<text x="279.8" y="257.7" font-size="18" font-weight="bold" fill="#36ee36">2</text>
<polygon points="231.2,308.6 242.7,304.1 242.7,313.1" fill="#36ee36"/>
<text x="247.7" y="314.3" font-size="18" font-weight="bold" fill="#36ee36">3</text>
<text x="352.5" y="295.2" font-size="18" font-weight="bold" fill="#36ee36">1</text>
<polygon points="357.4,310.4 352.7,299.9 362.1,299.9" fill="#36ee36"/>
<polygon points="436.0,262.6 447.5,258.1 447.5,267.1" fill="#36ee36"/>
<text x="450.0" y="267.7" font-size="18" font-weight="bold" fill="#36ee36">2</text>
<polygon points="411.6,309.1 423.1,304.6 423.1,313.6" fill="#36ee36"/>
<text x="427.70000000000005" y="313.8" font-size="18" font-weight="bold" fill="#36ee36">3</text>
<text x="530.9" y="291.5" font-size="18" font-weight="bold" fill="#36ee36">1</text>
<polygon points="535.1,305.9 530.4,295.4 539.8,295.4" fill="#36ee36"/>
<polygon points="612.0,258.2 623.5,253.7 623.5,262.7" fill="#36ee36"/>
<text x="627.6" y="262.3" font-size="18" font-weight="bold" fill="#36ee36">2</text>
<polygon points="587.8,310.0 599.2,305.5 599.2,314.5" fill="#36ee36"/>
<text x="602.5" y="315.2" font-size="18" font-weight="bold" fill="#36ee36">3</text>
<text x="706.1" y="291.2" font-size="18" font-weight="bold" fill="#36ee36">1</text>
<polygon points="710.7,306.8 706.0,296.3 715.4,296.3" fill="#36ee36"/>
<rect x="700" y="84.6" width="43" height="87.6" fill="#fff"/>
<defs><linearGradient id="cb" x1="0" y1="0" x2="0" y2="1"><stop offset="0" stop-color="#ffffff"/><stop offset="0.06" stop-color="#f4e4f4"/><stop offset="0.12" stop-color="#e070d8"/><stop offset="0.17" stop-color="#e000a0"/><stop offset="0.24" stop-color="#f00000"/><stop offset="0.3" stop-color="#ff2000"/><stop offset="0.36" stop-color="#ff8000"/><stop offset="0.44" stop-color="#ffc000"/><stop offset="0.5" stop-color="#ffff00"/><stop offset="0.58" stop-color="#a0ff00"/><stop offset="0.63" stop-color="#00e000"/><stop offset="0.7" stop-color="#00e0c0"/><stop offset="0.75" stop-color="#00d0ff"/><stop offset="0.8" stop-color="#0080ff"/><stop offset="0.85" stop-color="#0020e0"/><stop offset="0.92" stop-color="#0000a0"/><stop offset="1" stop-color="#000000"/></linearGradient></defs>
<rect x="707.0" y="90.2" width="7.6" height="78.2" fill="url(#cb)" stroke="#333" stroke-width="0.9"/>
<text x="718.0" y="95.0" font-size="6.6" fill="#333">1.00</text>
<text x="718.0" y="115.0" font-size="6.6" fill="#333">0.75</text>
<text x="718.0" y="134.0" font-size="6.6" fill="#333">0.50</text>
<text x="718.0" y="153.3" font-size="6.6" fill="#333">0.25</text>
<text x="718.0" y="172.3" font-size="6.6" fill="#333">0.00</text>
<line x1="690.2" y1="216.2" x2="727.9" y2="216.2" stroke="#fff" stroke-width="1.8"/>
<line x1="686.7" y1="320.0" x2="727.8" y2="320.0" stroke="#fff" stroke-width="1.8"/>
<line x1="238.2" y1="390.2" x2="238.2" y2="715.6" stroke="#b8b8f2" stroke-width="2.4" />
<polyline points="117.2,438.2 118.2,438.0 119.2,438.2 120.3,438.3 121.3,438.3 122.3,438.3 123.4,438.4 124.4,438.2 125.4,438.3 126.4,438.0 127.5,438.0 128.5,438.1 129.5,438.0 130.5,438.2 131.6,438.2 132.6,438.1 133.6,438.3 134.6,438.1 135.7,438.0 136.7,438.0 137.7,438.2 138.7,438.2 139.8,437.9 140.8,438.2 141.8,438.3 142.8,438.1 143.8,438.1 144.9,437.9 145.9,438.0 146.9,438.0 147.9,438.1 149.0,437.8 150.0,438.0 151.0,438.2 152.0,438.0 153.0,438.0 154.0,438.2 155.0,438.1 156.0,438.0 157.0,438.1 158.0,437.8 159.0,438.1 160.0,438.0 161.0,438.3 162.0,438.2 163.0,438.0 164.0,438.1 165.0,437.9 166.0,438.1 167.0,438.2 168.0,438.3 169.0,438.1 170.0,438.0 171.0,438.0 172.0,438.2 173.0,438.3 174.0,438.0 175.0,438.2 176.0,437.9 177.0,438.0 178.0,438.0 179.0,438.2 180.0,438.1 181.0,438.1 182.0,438.2 183.0,438.0 184.0,438.3 185.0,438.0 186.0,438.2 187.0,438.1 188.0,438.1 189.0,438.2 190.0,438.2 191.2,437.8 192.5,437.5 194.3,432.5 196.0,437.8 197.0,437.9 198.0,438.1 199.0,438.3 200.0,438.5 201.0,438.4 202.0,438.4 203.0,438.6 204.1,438.6 205.1,438.6 206.1,438.7 207.1,438.6 208.1,438.7 209.1,438.5 210.1,438.7 211.2,438.7 212.2,438.8 213.2,438.5 214.2,438.5 215.2,438.8 216.2,438.5 217.2,438.9 218.2,438.8 219.3,438.5 220.3,438.6 221.3,438.8 222.3,438.6 223.3,438.5 224.3,438.8 225.3,438.7 226.4,438.8 227.4,438.6 228.4,438.7 229.4,438.8 230.4,438.5 231.4,438.6 232.4,438.8 233.5,439.0 234.5,439.0 235.5,438.6 236.5,438.8 237.5,430.0 238.9,411.1 240.0,413.0 241.1,424.4 242.2,427.2 243.3,430.0 244.4,432.7 245.6,435.5 246.7,438.2 247.8,438.5 248.9,438.8 250.0,439.0 251.0,439.0 252.0,439.1 253.0,438.9 254.0,438.8 255.0,438.8 256.0,438.8 257.0,439.0 258.0,439.0 259.0,439.0 260.0,438.8 261.0,438.9 262.0,438.9 263.0,439.1 264.0,439.2 265.0,439.2 266.0,438.8 267.0,438.8 268.0,439.2 269.0,439.0 270.0,439.0 271.0,439.1 272.0,438.9 273.0,438.9 274.0,438.9 275.0,438.8 276.0,438.9 277.0,438.6 278.0,438.9 279.0,438.9 280.0,438.6 281.0,438.7 282.0,438.8 283.0,438.6 284.0,438.5 285.0,438.5 286.0,438.6 287.0,438.4 288.0,438.7 289.0,438.7 290.0,438.5 291.0,438.4 292.0,438.3 293.0,438.1 294.0,437.8 295.0,437.7 296.0,437.5 297.2,430.1 298.4,422.7 300.0,433.0 301.0,435.0 302.0,437.0 303.0,437.0 304.0,437.2 305.0,437.1 306.0,436.9 307.0,437.2 308.0,437.1 309.0,437.1 310.0,437.1 311.0,437.0 312.0,437.0 313.0,436.5 314.0,435.8 315.0,435.0 316.4,433.7 317.8,432.2 319.5,436.5 320.7,436.8 321.8,437.0 323.0,437.0 324.0,434.7 325.0,432.3 326.0,430.0 327.8,426.7 328.9,428.9 330.0,431.0 331.0,432.2 332.0,433.5 333.0,434.8 334.0,436.0 335.0,436.1 336.0,436.4 337.0,436.3 338.0,436.6 339.0,436.8 340.0,437.0 341.0,436.7 342.0,436.7 343.0,436.8 344.0,436.7 345.0,436.4 346.0,436.6 347.0,436.4 348.0,436.1 349.0,436.2 350.0,436.0 351.0,434.0 352.0,432.0 353.2,429.4 354.4,426.7 355.5,430.0 356.7,428.5 358.0,432.0 359.0,433.5 360.0,435.0 361.0,435.2 362.0,435.3 363.0,435.3 364.0,435.7 365.0,435.7 366.0,435.8 367.0,436.0 368.0,436.0 369.0,435.2 370.0,434.0 371.0,434.8 372.0,436.0 373.0,436.1 374.0,436.1 375.0,435.9 376.0,436.0 377.0,435.8 378.0,435.9 379.0,435.9 380.0,435.8 381.0,435.9 382.0,436.2 383.0,436.0 384.0,436.0 385.4,434.1 386.7,432.2 388.0,435.0 389.0,435.0 390.0,435.2 391.0,435.0 392.0,435.2 393.0,435.0 394.0,431.5 395.0,428.0 396.3,427.8 397.6,421.9 398.8,416.0 400.0,425.0 401.8,432.7 402.9,432.5 403.9,432.4 405.0,432.0 406.1,430.2 407.3,428.4 408.5,432.0 409.6,435.7 410.6,435.5 411.7,435.7 412.7,435.7 413.7,435.4 414.8,435.7 415.8,435.3 416.8,435.4 417.9,435.3 418.9,435.4 419.9,435.4 420.9,435.1 422.0,435.5 423.0,435.2 424.0,435.2 425.1,435.2 426.1,435.1 427.1,435.0 428.2,435.1 429.2,435.0 430.4,434.8 431.5,434.4 432.7,434.3 433.8,433.9 435.0,433.7 436.0,433.6 437.0,433.9 438.0,434.0 439.0,434.2 440.0,434.5 441.0,434.1 442.0,433.5 443.0,433.0 444.2,429.9 445.5,426.9 446.8,431.2 448.0,435.5 449.0,435.5 450.0,435.2 451.0,434.7 452.0,434.9 453.0,434.6 454.0,434.0 455.0,434.0 456.3,434.0 457.6,433.7 458.8,431.9 460.0,430.0 461.0,424.5 462.0,419.0 463.2,426.5 464.5,434.0 465.6,433.8 466.8,433.7 467.9,433.8 469.0,433.3 470.1,433.3 471.3,433.3 472.4,433.0 473.6,431.3 474.8,429.7 476.0,428.0 477.1,426.6 478.1,425.3 479.2,423.9 480.6,425.9 482.0,428.0 483.0,429.8 484.0,431.5 485.0,433.2 486.0,435.0 487.0,432.5 488.0,430.0 489.2,426.0 490.4,422.0 491.7,427.0 493.0,432.0 494.2,428.9 495.5,425.9 496.6,428.9 497.7,432.0 498.8,435.0 499.9,435.1 501.0,435.0 502.1,435.2 503.2,435.1 504.3,435.0 505.4,434.8 506.5,435.1 507.6,435.0 508.7,434.2 509.8,433.5 510.9,432.8 512.0,432.0 513.0,430.5 514.0,428.9 515.0,427.4 516.0,425.9 517.0,427.9 518.0,430.0 519.4,436.0 521.0,420.0 522.4,401.0 523.8,401.4 525.3,401.8 526.6,403.4 528.0,405.0 529.1,407.6 530.2,410.2 531.6,413.1 533.0,416.0 534.0,418.0 535.0,420.0 536.0,422.0 537.0,423.0" fill="none" stroke="#e05252" stroke-width="1.25" stroke-linejoin="round" />
<polyline points="117.3,486.4 118.3,486.2 119.4,486.0 120.5,486.1 121.5,486.0 123.0,466.8 124.0,476.0 124.6,485.5 125.7,485.3 126.8,485.5 127.8,485.6 128.9,485.6 130.0,485.6 131.0,485.5 132.0,485.7 133.0,485.6 134.0,485.8 135.0,485.7 136.0,485.9 137.0,485.9 138.0,485.8 139.0,485.5 140.0,485.5 141.0,485.9 142.0,485.8 143.0,485.8 144.0,485.6 145.0,485.6 146.0,485.8 147.0,485.8 148.0,485.8 149.0,485.8 150.0,485.9 151.0,485.6 152.0,485.7 153.0,486.0 154.0,486.0 155.0,486.0 156.0,485.6 157.0,485.6 158.0,485.7 159.0,485.8 160.0,485.9 161.0,485.6 162.0,485.9 163.0,485.7 164.0,485.7 165.0,486.0 166.0,485.9 167.0,486.0 168.0,485.8 169.0,485.9 170.0,485.8 171.0,485.8 172.0,486.1 173.0,486.1 174.0,485.7 175.0,485.8 176.0,486.1 177.0,486.0 178.0,486.1 179.0,485.8 180.0,486.0 181.0,486.0 182.0,485.9 183.0,486.1 184.0,485.9 185.0,486.0 186.0,486.2 187.0,485.8 188.0,485.9 189.0,486.0 190.0,486.1 191.0,485.8 192.0,485.8 193.0,485.7 194.0,486.0 195.0,485.6 196.0,485.6 197.0,485.8 198.0,485.8 199.0,485.9 200.0,485.7 201.0,485.9 202.0,485.5 203.0,485.6 204.0,485.8 205.0,485.5 206.0,485.6 207.0,485.8 208.0,485.8 209.0,485.6 210.0,485.5 211.0,485.6 212.0,485.7 213.0,485.6 214.0,485.4 215.0,485.7 216.0,485.6 217.0,485.8 218.0,485.8 219.0,485.8 220.0,485.5 221.0,485.7 222.0,485.4 223.0,485.4 224.0,485.5 225.0,484.4 226.0,483.5 227.0,484.8 228.0,485.6 229.1,485.8 230.2,485.6 231.2,485.7 232.3,485.7 233.4,485.8 234.4,485.8 235.5,485.9 236.6,486.0 237.5,478.0 238.0,471.8 239.0,473.0 240.8,479.7 241.9,481.9 243.0,484.0 244.1,485.5 245.2,487.0 246.3,488.5 247.3,488.3 248.3,488.5 249.3,488.6 250.3,488.5 251.3,488.7 252.3,488.5 253.3,488.3 254.3,488.6 255.3,488.7 256.3,488.4 257.3,488.3 258.3,488.5 259.4,488.5 260.4,488.5 261.4,488.7 262.4,488.6 263.4,488.7 264.4,488.3 265.4,488.5 266.4,488.6 267.4,488.3 268.4,488.3 269.4,488.6 270.4,488.7 271.4,488.3 272.4,488.5 273.4,487.1 274.5,485.6 276.0,487.0 277.0,486.2 278.0,485.8 279.3,486.3 280.5,486.7 281.8,487.0 282.8,487.2 283.9,487.5 284.9,488.1 285.9,488.3 287.0,488.8 288.0,489.0 289.0,487.9 290.0,487.0 291.1,486.3 292.2,485.9 293.3,485.0 294.6,483.0 296.0,481.0 297.1,479.9 298.2,478.7 300.0,482.0 301.4,484.0 302.8,486.0 303.9,486.8 304.9,487.5 305.9,488.2 307.0,489.0 308.0,487.3 309.0,485.7 310.0,484.0 311.1,485.0 312.1,486.0 313.2,487.0 314.4,485.5 315.7,484.0 316.9,486.0 318.0,488.0 319.2,488.5 320.5,489.0 321.7,487.3 322.8,485.7 324.0,484.0 325.1,482.2 326.3,480.5 327.4,478.7 328.7,481.4 330.0,484.0 331.0,485.5 332.0,487.0 333.1,487.5 334.1,488.1 335.1,488.6 336.2,489.0 337.3,487.2 338.3,485.3 339.4,483.5 340.4,485.3 341.5,487.2 342.5,489.0 343.8,486.5 345.0,484.0 346.4,480.3 347.7,476.6 348.8,478.1 349.8,479.5 350.9,481.0 351.9,479.3 353.0,477.7 354.0,476.0 355.1,478.3 356.1,480.7 357.2,483.0 358.2,480.9 359.2,478.8 360.3,476.6 361.3,474.5 362.4,478.0 363.4,481.5 364.5,485.0 365.5,485.5 366.6,485.5 367.6,486.0 368.7,486.2 369.7,486.6 370.8,486.9 371.8,487.0 372.8,487.0 373.9,486.9 374.9,486.7 375.9,486.4 377.0,486.2 378.0,486.0 379.0,485.2 380.0,484.5 381.0,483.8 382.0,483.0 383.1,481.8 384.3,480.5 385.4,479.3 386.4,481.2 387.5,483.1 388.6,485.1 389.6,487.0 390.6,486.4 391.7,485.8 392.7,485.2 393.8,484.6 394.8,484.0 396.1,481.9 397.3,479.7 398.4,482.4 399.4,485.0 400.5,483.4 401.5,481.8 402.6,480.2 403.6,481.6 404.6,483.1 405.7,484.6 406.7,486.0 407.8,485.4 408.8,484.8 409.9,484.1 410.9,483.5 412.0,482.9 413.0,483.7 414.1,484.5 415.1,485.0 416.2,485.0 417.2,485.1 418.2,485.1 419.3,485.5 420.4,485.7 421.4,485.4 422.4,485.4 423.5,485.5 424.6,485.7 425.6,485.7 426.6,486.2 427.7,486.0 428.9,484.0 430.0,482.0 431.4,478.8 432.9,475.6 433.9,477.3 435.0,479.1 436.0,480.8 437.5,474.0 439.2,466.8 440.2,468.4 441.3,470.0 442.3,473.9 443.3,477.7 444.4,479.2 445.4,480.6 446.5,482.1 447.5,483.5 448.6,485.0 449.7,485.3 450.7,485.9 451.8,486.3 452.8,487.0 453.8,487.1 454.9,487.1 455.9,486.8 457.0,486.8 458.0,487.0 459.1,487.0 460.1,487.2 461.1,486.8 462.2,486.8 463.2,486.8 464.3,486.9 465.3,487.0 466.6,480.4 467.8,473.9 469.5,476.0 470.8,471.6 472.0,467.2 473.4,469.6 474.7,472.0 475.9,475.5 477.0,479.0 478.0,481.3 479.0,483.7 480.0,486.0 481.0,486.4 482.1,487.1 483.1,487.5 484.1,488.0 485.2,487.8 486.2,487.7 487.2,487.7 488.3,487.6 489.4,487.9 490.4,487.6 491.4,487.6 492.5,487.7 493.6,487.5 494.6,487.3 495.7,487.6 496.7,487.5 497.8,487.2 498.8,487.2 499.9,487.4 500.9,487.1 501.9,486.9 503.0,487.0 504.4,478.6 505.7,470.3 507.5,476.0 509.2,482.0 511.0,472.0 512.0,469.1 513.0,466.2 514.2,470.6 515.5,475.0 516.6,479.0 517.6,483.0 518.7,487.0 519.8,486.8 520.8,487.2 521.9,487.2 522.9,486.9 524.0,487.0 525.0,487.0 526.0,486.9 527.0,486.7 528.0,486.9 529.0,486.7 530.0,486.5 531.1,486.5 532.1,486.4 533.2,486.7 534.3,486.8 535.3,487.1 536.4,487.0" fill="none" stroke="#e05252" stroke-width="1.25" stroke-linejoin="round" />
<polyline points="117.3,555.3 118.1,555.2 118.9,555.2 119.7,555.4 120.5,555.1 121.3,555.1 122.1,555.1 122.9,554.8 123.7,554.9 124.6,554.9 125.4,555.0 126.2,554.6 127.0,554.6 127.8,554.5 128.6,554.8 129.4,554.7 130.2,554.3 131.0,554.5 131.8,554.7 132.7,554.6 133.5,554.4 134.3,554.3 135.2,554.0 136.0,553.9 136.8,554.1 137.7,553.8 138.5,553.8 139.3,553.8 140.2,553.6 141.0,553.8 141.8,553.2 142.7,552.7 143.5,553.3 144.3,552.0 145.2,551.8 146.0,551.0 146.9,550.9 147.7,551.1 148.6,550.5 149.4,549.9 150.3,551.6 151.1,551.4 152.0,550.0 152.8,550.9 153.6,550.5 154.4,549.5 155.2,549.3 156.0,549.5 156.8,548.9 157.6,550.7 158.4,549.7 159.2,550.9 160.0,550.0 160.8,549.7 161.7,551.1 162.5,550.8 163.3,548.5 164.2,549.0 165.0,550.8 165.8,549.6 166.7,550.9 167.5,549.4 168.3,548.5 169.2,549.9 170.0,549.5 170.8,550.2 171.7,548.9 172.5,548.4 173.3,549.1 174.2,550.7 175.0,550.2 175.8,548.5 176.7,548.8 177.5,548.5 178.3,548.4 179.2,550.3 180.0,549.5 180.8,548.8 181.6,550.0 182.4,549.8 183.2,549.3 184.0,550.9 184.8,549.4 185.6,550.9 186.4,549.7 187.2,550.6 188.0,551.0 188.8,550.4 189.6,550.6 190.4,552.5 191.2,552.2 192.0,551.0 192.8,552.6 193.6,550.9 194.4,551.5 195.2,552.8 196.0,552.0 196.8,552.2 197.6,550.6 198.4,552.7 199.2,550.5 200.0,550.4 200.8,551.5 201.6,550.2 202.4,549.9 203.2,549.1 204.0,550.0 204.8,548.9 205.7,550.1 206.5,549.2 207.3,550.1 208.2,549.5 209.0,549.6 209.8,550.9 210.7,549.6 211.5,549.8 212.3,550.5 213.2,548.7 214.0,549.5 214.8,548.6 215.6,550.5 216.4,550.2 217.2,548.7 218.0,548.5 218.8,549.9 219.6,550.4 220.4,548.4 221.2,550.4 222.0,550.2 222.8,549.4 223.6,548.9 224.4,548.0 225.2,547.8 226.0,549.0 226.8,550.2 227.6,548.3 228.4,549.5 229.2,548.3 230.0,549.8 230.8,549.2 231.7,548.4 232.5,548.0 233.3,549.4 234.1,547.7 234.9,548.1 235.7,549.0 236.5,548.8 236.5,549.0 237.5,540.0 238.7,528.7 239.8,530.2 240.8,531.8 242.0,538.0 242.9,541.7 243.9,545.4 244.9,548.6 246.0,551.7 247.0,554.9 247.8,555.1 248.6,555.0 249.4,554.8 250.2,555.1 251.0,554.8 251.8,554.7 252.6,554.9 253.4,555.0 254.2,554.8 255.0,555.0 255.9,554.8 256.8,554.9 257.6,555.0 258.5,554.8 259.4,554.9 260.2,555.2 261.1,555.2 262.0,555.0 262.9,554.9 263.7,554.7 264.6,554.4 265.4,554.0 266.3,553.7 267.1,553.5 268.0,553.5 269.4,551.5 270.2,552.3 271.0,552.9 271.8,553.6 272.6,554.0 273.4,553.6 274.3,553.8 275.1,553.6 275.9,553.6 276.8,553.3 277.6,553.5 278.4,552.9 279.3,553.1 280.1,553.0 280.9,553.0 281.8,552.8 282.6,552.7 283.4,552.6 284.3,552.5 285.1,552.2 285.9,551.9 286.7,551.9 287.6,551.8 288.4,551.6 289.2,551.2 290.0,551.0 291.2,550.1 292.4,549.0 293.4,547.0 294.5,544.9 295.6,545.9 296.6,547.0 297.7,548.0 298.7,548.0 299.8,547.6 300.8,547.4 301.6,547.8 302.5,548.0 303.3,548.4 304.2,548.7 305.0,549.0 305.9,548.4 306.7,547.9 307.6,547.3 308.4,546.7 309.3,546.1 310.2,545.5 311.0,545.0 311.9,544.4 312.8,545.3 313.6,546.2 314.5,547.1 315.4,548.0 316.3,547.5 317.1,547.4 318.0,547.0 318.8,547.1 319.6,546.9 320.4,546.6 321.2,546.3 322.0,546.3 322.8,546.0 323.9,546.5 324.9,547.0 326.0,547.5 326.9,547.8 327.7,547.5 328.6,547.9 329.4,547.6 330.2,548.0 331.1,548.0 332.1,546.5 333.2,545.0 334.1,545.7 335.1,546.2 336.0,547.0 336.8,547.0 337.6,546.8 338.4,546.8 339.2,546.8 340.0,546.5 340.9,546.5 341.9,546.5 342.8,546.8 343.7,547.0 344.6,547.5 345.4,547.7 346.3,548.0 347.1,548.8 348.0,549.0 348.8,549.5 349.6,549.8 350.4,550.4 351.2,550.5 352.0,551.0 352.9,550.3 353.8,549.7 354.6,549.0 355.5,548.3 356.4,547.7 357.3,547.0 358.1,544.9 359.0,542.8 359.8,540.7 360.7,539.1 361.5,536.5 362.5,537.5 363.6,540.0 364.6,542.0 365.6,544.5 366.7,546.5 367.7,547.0 368.8,544.6 369.8,540.0 370.9,541.7 371.9,544.2 373.0,546.0 374.0,543.0 375.0,541.0 376.0,541.6 377.0,544.3 378.0,546.0 379.2,540.0 380.1,543.3 381.1,545.6 382.0,547.0 382.8,545.3 383.7,543.6 384.5,540.0 386.0,545.0 386.9,541.0 387.8,537.3 388.7,534.8 389.9,540.8 391.0,547.0 392.0,544.0 393.0,541.5 394.0,540.0 395.2,535.7 396.4,531.9 397.3,537.6 398.1,542.6 399.0,548.0 400.0,546.8 401.0,547.6 402.0,546.0 402.8,547.1 403.6,545.5 404.4,544.2 405.2,543.9 406.0,545.0 407.0,541.3 408.0,534.2 409.0,530.8 410.0,536.0 411.0,540.0 412.0,542.5 413.0,544.7 414.0,542.6 414.9,542.4 415.9,540.0 416.9,540.7 417.8,543.0 418.8,546.0 419.8,540.2 420.8,533.3 421.8,529.0 422.8,528.0 423.7,524.3 424.7,523.1 425.7,526.1 426.6,529.8 427.6,535.0 428.6,538.3 429.6,540.7 430.6,543.7 431.6,542.8 432.5,541.7 433.5,540.0 434.3,538.3 435.1,536.1 435.9,532.7 436.7,528.8 437.5,527.0 438.5,530.3 439.4,532.8 440.4,537.0 441.4,538.5 442.3,542.7 443.3,545.7 444.3,540.7 445.3,533.7 446.3,529.0 447.3,533.7 448.2,539.2 449.2,545.0 450.2,543.1 451.2,540.0 452.5,520.0 453.3,513.2 454.1,506.5 455.1,506.2 456.0,505.9 457.0,505.5 458.0,506.7 459.0,507.8 460.0,509.0 461.0,509.3 462.0,509.2 463.0,509.4 464.0,511.3 464.9,513.1 465.9,515.0 466.7,520.0 467.5,525.0 468.8,535.9 469.8,537.0 470.8,539.0 471.8,538.8 472.8,534.7 473.7,534.1 474.7,530.0 475.7,532.0 476.6,531.6 477.6,534.0 478.6,529.3 479.6,525.2 480.6,520.2 481.6,526.2 482.5,530.0 483.5,527.3 484.5,525.5 485.5,523.0 486.5,526.4 487.4,528.5 488.4,530.0 489.4,532.5 490.4,532.5 491.4,533.9 492.5,510.0 493.4,501.4 494.3,492.7 495.3,499.4 496.3,505.0 497.2,498.3 498.2,493.7 499.0,499.9 499.8,505.7 500.6,510.0 501.4,505.5 502.3,500.8 503.1,495.0 504.1,497.3 505.0,503.1 506.0,505.0 507.0,505.1 508.0,503.4 509.0,500.0 510.0,502.8 511.0,506.4 512.0,508.0 513.0,505.9 514.0,505.0 515.0,508.1 515.9,509.6 516.9,510.0 517.8,503.5 518.8,498.0 519.8,502.5 520.8,510.0 521.9,508.8 523.0,508.0 523.9,508.8 524.8,510.3 525.7,510.0 526.7,511.6 527.6,511.6 528.6,515.0 529.6,514.4 530.6,510.1 531.6,510.0 532.6,512.4 533.5,511.5 534.5,514.0 535.5,510.4 536.5,509.0 537.5,505.0 538.5,507.7 539.4,513.0" fill="none" stroke="#e05252" stroke-width="1.25" stroke-linejoin="round" />
<polyline points="117.8,603.3 118.9,603.4 119.9,603.4 121.0,603.2 122.1,603.2 123.2,603.3 124.2,603.3 125.3,603.6 126.4,603.5 127.4,603.5 128.5,603.5 130.0,594.4 131.6,604.0 132.6,604.2 133.6,603.9 134.6,604.0 135.7,603.9 136.7,604.2 137.7,603.9 138.7,604.2 139.7,604.2 140.7,604.2 141.7,603.9 142.8,604.0 143.8,604.2 144.8,604.0 145.8,604.1 146.8,604.1 147.8,604.4 148.8,604.2 149.9,604.3 150.9,604.1 151.9,604.3 152.9,604.2 153.9,604.4 154.9,604.1 155.9,604.4 157.0,604.2 158.0,604.3 159.0,604.3 160.0,604.3 161.0,604.2 162.0,604.5 163.0,604.3 164.0,604.3 165.0,604.2 166.0,604.3 167.0,604.4 168.0,604.5 169.0,604.3 170.0,604.5 171.1,604.2 172.1,604.4 173.1,604.4 174.1,604.6 175.1,604.6 176.1,604.5 177.1,604.3 178.1,604.4 179.1,604.6 180.1,604.4 181.1,604.5 182.7,591.8 184.4,605.0 185.5,605.0 186.5,605.0 187.6,604.8 188.6,605.2 189.7,605.1 190.7,604.9 191.8,605.0 192.8,604.9 193.8,605.0 194.9,605.0 195.9,604.9 197.0,605.0 198.4,596.7 200.0,605.0 201.0,604.9 202.0,604.9 203.0,605.0 204.0,604.8 205.0,604.7 206.0,604.9 207.0,604.7 208.0,604.9 209.0,604.7 210.0,604.8 211.0,604.6 212.0,604.7 213.0,604.4 214.0,604.4 215.0,604.5 216.7,602.9 218.0,604.5 219.0,604.3 220.0,604.5 221.0,604.5 222.0,604.3 223.0,604.3 224.0,604.5 225.0,604.3 226.0,604.1 227.0,604.1 228.0,604.1 229.0,604.0 230.0,604.1 231.0,604.0 232.0,604.3 233.0,604.1 234.0,604.1 235.0,604.1 236.0,604.0 237.4,603.6 238.9,603.0 239.9,603.9 241.0,604.5 242.2,604.2 243.3,604.0 244.7,603.4 246.0,603.0 247.0,603.7 248.0,604.5 249.0,604.3 250.0,604.5 251.0,604.7 252.0,604.8 253.0,604.8 254.0,604.8 255.1,604.8 256.1,604.6 257.1,604.8 258.1,604.8 259.1,605.0 260.1,604.8 261.1,605.0 262.5,600.0 264.4,587.3 265.5,590.1 266.7,593.0 267.8,597.0 268.9,601.0 270.0,601.8 271.1,602.6 272.2,603.4 273.3,604.2 274.4,605.0 275.4,604.9 276.4,605.0 277.5,605.1 278.5,605.1 279.5,604.9 280.5,604.7 281.6,605.0 282.6,605.0 283.6,604.8 284.6,604.7 285.7,604.8 286.7,604.6 287.7,604.8 288.7,604.9 289.8,604.7 290.8,604.8 291.8,604.8 292.8,604.5 293.9,604.8 294.9,604.7 295.9,604.5 296.9,604.4 298.0,604.4 299.0,604.6 300.0,604.5 301.8,603.0 303.0,605.0 304.0,605.1 305.0,604.9 306.0,605.2 307.0,605.0 308.0,605.0 309.0,604.9 310.0,605.3 311.0,604.9 312.0,605.2 313.0,605.1 314.0,605.1 315.0,605.1 316.0,605.0 317.0,605.3 318.0,605.3 319.0,605.3 320.0,605.2 321.0,605.0 322.0,605.3 323.0,605.1 324.0,605.3 325.0,605.1 326.0,605.2 327.0,605.4 328.0,605.1 329.0,605.3 330.0,605.1 331.0,605.1 332.0,605.1 333.0,605.5 334.0,605.5 335.0,605.4 336.0,605.2 337.0,605.4 338.0,605.4 339.0,605.3 340.0,605.4 341.0,605.5 342.0,605.2 343.0,605.2 344.0,605.4 345.0,605.2 346.0,605.3 347.0,605.4 348.0,605.3 349.0,605.4 350.0,605.3 351.0,605.5 352.0,605.4 353.0,605.5 354.0,605.3 355.0,605.5 356.0,605.3 357.0,605.7 358.0,605.5 359.0,604.8 360.0,604.0 361.0,604.7 362.0,605.5 363.0,605.5 364.0,605.6 365.0,605.7 366.0,605.7 367.0,605.7 368.0,605.7 369.0,605.9 370.0,605.8 371.0,605.9 372.0,605.7 373.0,605.8 374.0,605.8 375.0,606.0 376.0,605.9 377.0,605.9 378.0,605.9 379.0,606.1 380.0,605.9 381.0,605.8 382.0,606.1 383.0,606.2 384.0,606.2 385.0,606.1 386.0,606.2 387.0,606.1 388.0,606.2 389.0,606.0 390.0,606.1 391.0,606.2 392.0,606.3 393.0,606.3 394.0,606.2 395.0,606.4 396.0,606.4 397.0,606.3 398.0,606.4 399.0,606.4 400.0,606.5 401.0,606.4 402.0,606.4 403.0,606.7 404.0,606.8 405.0,606.7 406.0,606.8 407.0,606.6 408.0,606.8 409.0,606.6 410.0,606.8 411.0,606.7 412.0,606.9 413.0,606.6 414.0,606.9 415.0,606.6 416.0,606.8 417.0,607.0 418.0,606.7 419.0,606.8 420.0,606.8 421.0,606.8 422.0,606.8 423.0,607.1 424.0,607.1 425.0,607.0 426.0,607.0 427.0,607.1 428.0,606.9 429.0,606.9 430.0,607.3 431.0,607.0 432.0,607.1 433.0,607.3 434.0,607.4 435.0,607.2 436.0,607.1 437.0,607.2 438.0,607.4 439.0,607.4 440.0,607.2 441.0,607.5 442.0,607.3 443.0,607.3 444.0,607.2 445.0,607.6 446.0,607.6 447.0,607.3 448.0,607.5 449.0,607.4 450.0,607.5 451.0,607.7 452.0,607.3 453.0,607.4 454.0,607.6 455.0,607.5 456.0,607.7 457.0,607.7 458.0,607.7 459.0,607.4 460.0,607.7 461.0,607.8 462.0,607.6 463.0,607.5 464.0,607.5 465.0,607.6 466.0,607.7 467.0,607.5 468.0,607.6 469.0,607.6 470.0,607.8 471.0,607.8 472.0,607.7 473.0,607.8 474.0,607.9 475.0,607.8 476.0,607.7 477.0,607.7 478.0,608.0 479.0,607.9 480.0,607.7 481.0,607.9 482.0,607.7 483.0,608.0 484.0,607.8 485.0,607.9 486.0,607.9 487.0,607.7 488.0,607.9 489.0,607.8 490.0,607.8 491.0,608.0 492.0,607.8 493.0,607.8 494.0,608.0 495.0,607.8 496.0,607.9 497.0,608.0 498.0,607.9 499.0,608.1 500.0,608.0 501.0,608.2 502.0,607.9 503.1,608.1 504.1,608.2 505.1,608.1 506.1,608.3 507.1,608.2 508.2,608.1 509.2,608.2 510.2,608.3 511.2,608.2 512.2,608.3 513.3,608.4 514.3,608.3 515.3,608.4 516.3,608.5 517.4,608.5 518.4,608.4 519.4,608.6 520.4,608.3 521.4,608.6 522.5,608.4 523.5,608.6 524.5,608.5 525.5,608.6 526.5,608.7 527.6,608.7 528.6,608.8 529.6,608.6 530.6,608.7 531.6,608.6 532.7,608.8 533.7,608.8 534.7,608.8" fill="none" stroke="#5cc25c" stroke-width="1.4" stroke-linejoin="round" />
<polyline points="117.8,652.2 118.9,652.0 120.0,652.5 121.1,652.7 122.3,652.7 123.4,653.0 124.5,652.7 125.6,653.0 126.8,652.2 128.0,651.5 129.2,650.8 130.4,650.0 132.2,653.0 133.3,652.3 134.4,651.6 135.6,651.0 136.7,650.3 137.8,649.6 138.9,648.9 140.0,650.3 141.1,651.6 142.2,653.0 143.3,652.5 144.3,652.2 145.4,652.2 146.5,652.0 147.8,642.7 149.6,653.0 150.6,653.0 151.6,653.0 152.7,652.9 153.7,653.3 154.7,652.8 155.7,653.4 156.7,653.2 157.8,653.2 158.8,653.4 159.8,653.1 160.8,653.0 161.8,653.2 162.9,653.0 163.9,653.2 164.9,653.5 165.9,653.4 166.9,653.3 168.0,653.5 169.0,653.2 170.0,653.5 171.0,653.7 172.0,653.2 173.0,653.2 174.0,653.1 175.0,653.4 176.0,653.5 177.0,653.4 178.0,652.9 179.0,653.1 180.0,653.0 181.0,652.8 182.0,653.0 183.3,645.6 184.9,653.0 185.9,653.3 186.9,652.7 187.9,653.0 188.9,653.2 189.9,653.3 190.9,652.8 191.9,653.0 193.0,653.2 194.0,652.7 195.0,652.8 196.0,653.3 197.0,652.7 198.0,652.9 199.0,652.9 200.0,653.0 201.1,652.0 202.2,651.0 203.3,650.0 204.7,651.5 206.0,653.0 207.0,653.3 208.1,653.4 209.1,653.7 210.1,654.7 211.2,654.9 212.2,655.0 213.3,654.3 214.4,653.7 215.6,653.0 216.7,652.3 217.8,651.7 218.9,651.0 220.0,653.0 221.1,655.0 222.1,655.2 223.2,654.8 224.2,654.8 225.3,655.0 226.3,654.8 227.4,655.0 228.4,655.3 229.5,654.9 230.5,654.9 231.6,655.3 232.6,655.1 233.7,654.7 234.7,654.9 235.8,655.1 236.8,654.7 237.9,654.9 238.9,655.0 240.0,654.9 241.1,654.9 242.2,654.5 243.3,654.5 244.4,654.0 245.4,653.6 246.5,653.3 247.5,653.0 248.9,638.9 250.4,654.0 251.4,654.2 252.4,653.9 253.4,654.2 254.5,653.8 255.5,653.9 256.5,653.8 257.5,654.0 258.5,653.8 259.5,653.8 260.5,653.8 261.5,654.0 262.6,653.9 263.6,654.0 264.6,654.3 265.6,654.0 266.8,653.9 268.1,653.8 269.3,653.0 270.5,653.0 271.8,641.6 273.3,653.0 274.4,652.8 275.5,652.5 276.6,652.9 277.8,652.6 278.9,652.4 280.0,652.5 281.0,651.9 282.0,651.7 283.0,651.4 284.0,651.2 285.0,651.0 286.0,652.3 287.0,653.0 288.1,652.9 289.1,652.3 290.1,652.2 291.2,652.0 292.5,652.1 293.7,653.0 295.0,653.0 296.0,653.0 297.1,653.3 298.1,653.3 299.1,653.5 300.1,652.6 301.2,653.1 302.2,653.2 303.2,652.8 304.3,654.0 305.3,653.5 306.4,653.4 307.4,654.1 308.4,653.8 309.5,653.3 310.6,653.9 311.6,653.8 312.6,653.6 313.7,653.9 314.8,654.6 315.8,653.9 316.9,654.4 317.9,654.7 318.9,655.0 320.0,655.0 321.1,654.6 322.1,655.5 323.2,654.9 324.3,655.7 325.4,655.7 326.4,655.1 327.5,655.2 328.6,655.4 329.7,656.1 330.7,655.8 331.8,656.0 332.8,655.8 333.8,656.4 334.8,655.4 335.9,655.4 336.9,655.4 337.9,655.1 338.9,654.8 339.9,654.7 340.9,655.5 342.0,655.3 343.0,655.6 344.0,655.7 345.0,655.0 346.0,654.7 347.0,655.2 348.0,655.6 349.0,654.6 350.0,655.3 351.0,655.2 352.0,655.6 353.0,655.0 354.0,655.9 355.1,655.4 356.1,656.4 357.2,656.0 358.2,657.0 359.3,656.7 360.3,656.5 361.4,655.8 362.5,656.1 363.6,655.9 364.6,655.9 365.7,655.4 366.8,655.1 367.9,655.2 368.9,655.1 370.0,655.0 371.0,654.3 372.0,654.8 373.0,654.0 374.0,653.6 375.0,654.0 376.1,654.0 377.2,654.4 378.3,654.3 379.4,655.0 380.5,654.8 381.6,654.7 382.8,654.2 383.9,654.1 385.0,653.5 386.0,653.1 387.0,653.9 388.0,654.2 389.0,654.1 390.0,655.0 391.0,654.5 392.0,653.6 393.0,653.8 394.0,653.5 395.0,653.0 396.0,653.2 397.0,653.2 398.0,653.3 399.0,653.1 400.0,654.0 401.0,653.6 402.0,654.1 403.0,653.5 404.0,652.9 405.0,653.0 406.0,653.4 407.1,652.9 408.1,653.5 409.1,653.8 410.2,654.5 411.2,654.0 412.3,654.2 413.3,654.9 414.4,655.8 415.4,656.0 416.5,656.2 417.6,656.6 418.6,656.7 419.7,657.1 420.7,657.3 421.8,658.0 422.8,658.3 423.9,658.2 424.9,657.3 425.9,657.8 426.9,656.4 427.9,656.4 429.0,656.7 430.0,656.5 431.1,656.2 432.2,656.2 433.3,657.0 434.4,655.7 435.5,655.7 436.6,655.7 437.7,656.0 438.7,656.3 439.8,655.8 440.8,655.6 441.8,656.4 442.8,656.3 443.9,656.1 444.9,656.6 445.9,656.9 446.9,656.8 447.9,657.0 449.0,657.0 450.0,657.0 451.0,657.5 452.1,657.8 453.1,656.9 454.2,657.0 455.2,657.8 456.2,657.1 457.3,657.7 458.3,657.7 459.4,657.8 460.4,658.2 461.5,658.1 462.5,657.2 463.5,657.9 464.6,657.8 465.6,658.0 466.7,657.8 467.7,658.0 468.7,657.7 469.8,658.3 470.8,657.9 471.8,657.5 472.8,657.4 473.9,657.5 474.9,657.3 475.9,657.7 476.9,657.1 477.9,657.0 479.0,656.9 480.0,657.5 481.0,657.0 482.1,657.9 483.1,657.1 484.1,657.6 485.2,658.1 486.2,657.7 487.2,657.3 488.3,658.3 489.3,658.4 490.3,657.3 491.4,657.6 492.4,658.0 493.4,657.9 494.5,658.2 495.5,657.6 496.6,658.0 497.6,657.2 498.7,657.8 499.8,657.2 500.8,657.1 501.9,657.6 502.9,657.6 503.9,657.5 505.0,657.0 506.0,656.9 507.0,656.6 508.0,656.8 509.0,656.5 510.0,656.6 511.0,656.4 512.0,655.3 513.0,655.5 514.0,655.7 515.0,655.0 516.0,654.7 517.0,655.0 518.0,654.4 519.0,655.4 520.0,656.0 521.0,656.2 522.0,655.1 523.0,656.0 524.0,655.8 525.0,656.0 526.1,656.3 527.2,656.1 528.2,656.9 529.3,657.1 530.4,655.9 531.5,657.0 532.5,656.2 533.6,656.2 534.7,657.0" fill="none" stroke="#5cc25c" stroke-width="1.4" stroke-linejoin="round" />
<polyline points="117.8,702.2 118.8,702.1 119.8,702.3 120.8,702.4 121.8,702.0 122.8,702.1 123.8,702.0 124.8,702.2 125.8,702.2 126.8,702.1 127.8,702.1 128.9,702.3 129.9,702.3 130.9,702.1 131.9,702.1 132.9,702.2 133.9,702.2 134.9,702.3 135.9,702.1 136.9,702.2 137.9,702.1 138.9,702.2 139.9,702.0 140.9,702.0 141.9,701.9 142.9,702.3 143.9,702.0 144.9,702.1 145.9,701.9 146.9,702.0 147.9,701.9 148.9,702.1 150.0,701.9 151.0,702.1 152.0,701.9 153.0,701.9 154.0,702.0 155.0,702.0 156.0,701.9 157.0,701.8 158.0,701.8 159.0,702.2 160.0,702.0 161.0,701.9 162.0,701.8 163.1,701.8 164.1,701.9 165.1,702.1 166.1,701.8 167.2,702.1 168.2,701.9 169.2,701.8 170.2,702.0 171.3,701.8 172.3,701.7 173.3,701.8 174.3,701.9 175.4,701.9 176.4,701.7 177.4,702.0 178.4,701.9 179.4,701.9 180.5,701.7 181.5,701.9 182.5,701.8 183.5,701.6 184.6,701.5 185.6,701.5 186.6,701.5 187.6,701.5 188.7,701.6 189.7,701.7 190.7,701.5 191.7,701.6 192.8,701.4 193.8,701.4 194.8,701.7 195.8,701.3 196.9,701.5 197.9,701.6 198.9,701.5 199.9,701.7 200.9,701.7 201.9,701.6 202.9,701.8 203.9,701.9 205.0,701.9 206.0,702.0 207.0,701.7 208.0,702.1 209.0,701.9 210.0,702.0 211.0,702.1 212.1,702.0 213.1,702.3 214.1,702.0 215.2,702.2 216.2,702.1 217.2,702.2 218.3,702.2 219.3,702.4 220.3,702.5 221.4,702.3 222.4,702.5 223.4,702.4 224.4,702.4 225.5,702.7 226.5,702.5 227.5,702.4 228.6,702.6 229.6,702.8 230.6,702.6 231.7,702.8 232.7,702.8 233.7,702.9 234.8,702.7 235.8,702.7 236.8,702.8 237.9,702.9 238.9,703.0 239.9,702.9 240.9,702.7 241.9,702.9 242.9,702.8 243.9,702.7 245.0,702.7 246.0,702.9 247.0,702.5 248.0,702.7 249.0,702.5 250.0,702.5 251.0,702.5 252.1,702.2 253.1,702.5 254.2,702.2 255.2,702.4 256.2,702.0 257.3,702.0 258.3,702.0 259.4,701.8 260.4,701.7 261.4,701.8 262.5,701.9 263.5,701.6 264.6,701.4 265.6,701.5 266.7,701.7 267.8,702.1 268.9,702.0 270.0,702.4 271.0,702.4 272.0,702.2 273.0,702.2 274.0,702.0 275.0,702.1 276.0,702.1 277.0,702.0 278.0,701.9 279.0,701.7 280.0,701.7 281.0,701.4 282.0,701.5 283.4,695.3 285.0,700.5 286.3,701.1 287.6,701.5 288.6,701.6 289.7,701.6 290.7,701.7 291.7,701.6 292.8,701.7 293.8,701.6 294.8,701.8 295.9,701.9 296.9,701.9 297.9,701.7 299.0,702.0 300.0,702.0 301.0,701.9 302.1,702.0 303.1,701.9 304.1,702.0 305.2,701.7 306.2,701.8 307.2,701.9 308.3,701.8 309.3,701.6 310.4,701.7 311.4,701.8 312.4,701.5 313.5,701.7 314.5,701.5 315.9,696.4 317.5,701.0 319.4,702.0 320.4,701.9 321.4,702.2 322.4,702.0 323.5,701.9 324.5,702.1 325.5,702.1 326.5,702.2 327.5,702.1 328.5,702.1 329.5,702.0 330.5,702.2 331.6,701.8 332.6,702.1 333.6,702.1 334.6,701.9 335.6,702.1 336.6,702.0 337.6,702.0 338.7,702.1 339.7,701.9 340.7,701.9 341.7,702.1 342.7,701.8 343.7,702.0 344.7,702.1 345.7,702.0 346.8,701.9 347.8,702.1 348.8,702.1 349.8,702.1 350.8,702.0 351.8,702.2 352.8,702.1 353.9,701.9 354.9,701.9 355.9,701.8 356.9,701.8 357.9,701.9 358.9,702.1 359.9,702.1 360.9,701.8 362.0,701.9 363.0,702.0 364.0,702.1 365.0,702.0 366.0,700.5 367.0,699.0 368.0,700.5 369.0,702.0 370.0,702.1 371.0,702.2 372.0,701.9 373.0,702.3 374.0,702.0 375.0,702.1 376.0,702.3 377.0,702.2 378.0,702.0 379.0,702.2 380.0,702.1 381.0,702.0 382.0,702.1 383.0,702.2 384.0,702.3 385.0,702.2 386.0,702.3 387.0,702.4 388.0,702.2 389.0,702.2 390.0,702.4 391.0,702.3 392.0,702.2 393.0,702.2 394.0,702.6 395.0,702.5 396.0,702.4 397.0,702.3 398.0,702.7 399.0,702.6 400.0,702.5 401.0,702.6 402.0,702.4 403.0,702.4 404.0,702.5 405.0,702.4 406.0,702.6 407.0,702.5 408.0,702.6 409.0,702.5 410.0,702.5 411.0,702.5 412.0,702.7 413.0,702.4 414.0,702.6 415.0,702.4 416.0,702.5 417.0,702.4 418.0,702.6 419.0,702.4 420.0,702.6 421.0,702.6 422.0,702.5 423.0,702.7 424.0,702.5 425.0,702.6 426.0,702.5 427.0,702.5 428.0,702.3 429.0,702.5 430.0,702.4 431.0,702.5 432.0,702.7 433.0,702.4 434.0,702.6 435.0,702.6 436.0,702.4 437.0,702.5 438.0,702.4 439.0,702.7 440.0,702.4 441.0,702.5 442.0,702.4 443.0,702.6 444.0,702.6 445.0,702.5 446.0,702.5 447.0,702.5 448.3,700.0 450.0,702.5 451.0,702.3 452.0,702.7 453.0,702.3 454.0,702.4 455.0,702.4 456.0,702.6 457.0,702.6 458.0,702.4 459.0,702.7 460.0,702.7 461.0,702.3 462.0,702.6 463.0,702.5 464.0,702.4 465.0,702.5 466.0,702.4 467.0,702.6 468.0,702.5 469.0,702.7 470.0,702.7 471.0,702.7 472.0,702.5 473.0,702.6 474.0,702.6 475.0,702.6 476.0,702.7 477.0,702.3 478.0,702.5 479.0,702.5 480.0,702.5 481.8,701.0 483.5,702.5 484.5,702.6 485.5,702.4 486.5,702.7 487.6,702.4 488.6,702.5 489.6,702.4 490.6,702.5 491.6,702.7 492.6,702.4 493.6,702.5 494.7,702.7 495.7,702.7 496.7,702.7 497.7,702.6 498.7,702.8 499.7,702.8 500.8,702.8 501.8,702.5 502.8,702.7 503.8,702.5 504.8,702.9 505.8,702.9 506.8,702.9 507.9,702.6 508.9,702.7 509.9,702.8 510.9,702.8 511.9,702.6 512.9,702.9 513.9,702.7 515.0,702.8 516.0,702.7 517.0,702.9 518.0,702.7 519.0,702.7 520.0,702.9 521.1,702.8 522.1,703.0 523.1,702.8 524.1,702.9 525.1,702.8 526.1,702.8 527.1,702.9 528.2,703.0 529.2,703.0 530.2,703.1 531.2,703.0" fill="none" stroke="#5cc25c" stroke-width="1.4" stroke-linejoin="round" />
<line x1="258.5" y1="393.6" x2="253.5" y2="400.5" stroke="#000" stroke-width="2.6"/>
<polygon points="246.7,409.8 249.5,396.4 258.6,403.0" fill="#000"/>
<line x1="258.6" y1="452.6" x2="253.8" y2="459.1" stroke="#000" stroke-width="2.6"/>
<polygon points="247.0,468.4 249.9,455.0 258.9,461.6" fill="#000"/>
<line x1="257.0" y1="511.2" x2="252.1" y2="517.6" stroke="#000" stroke-width="2.6"/>
<polygon points="245.2,526.8 248.3,513.5 257.2,520.2" fill="#000"/>
<text x="35.5" y="405.6" font-size="14.6" font-weight="bold" font-style="normal" fill="#e3121c" text-anchor="start" textLength="60.2" lengthAdjust="spacingAndGlyphs" stroke="#e3121c" stroke-width="0.35">Migrating</text>
<text x="35.5" y="424.0" font-size="14.6" font-weight="bold" font-style="normal" fill="#e3121c" text-anchor="start" textLength="68.6" lengthAdjust="spacingAndGlyphs" stroke="#e3121c" stroke-width="0.35">Microglia 1</text>
<text x="35.5" y="464.0" font-size="14.6" font-weight="bold" font-style="normal" fill="#e3121c" text-anchor="start" textLength="60.2" lengthAdjust="spacingAndGlyphs" stroke="#e3121c" stroke-width="0.35">Migrating</text>
<text x="35.5" y="482.4" font-size="14.6" font-weight="bold" font-style="normal" fill="#e3121c" text-anchor="start" textLength="69.6" lengthAdjust="spacingAndGlyphs" stroke="#e3121c" stroke-width="0.35">Microglia 2</text>
<text x="35.5" y="535.9" font-size="14.6" font-weight="bold" font-style="normal" fill="#e3121c" text-anchor="start" textLength="60.2" lengthAdjust="spacingAndGlyphs" stroke="#e3121c" stroke-width="0.35">Migrating</text>
<text x="35.5" y="554.3" font-size="14.6" font-weight="bold" font-style="normal" fill="#e3121c" text-anchor="start" textLength="69.6" lengthAdjust="spacingAndGlyphs" stroke="#e3121c" stroke-width="0.35">Microglia 3</text>
<text x="35.5" y="590.6" font-size="14.6" font-weight="bold" font-style="normal" fill="#1cb41c" text-anchor="start" textLength="92.6" lengthAdjust="spacingAndGlyphs" stroke="#1cb41c" stroke-width="0.35">Non-migrating</text>
<text x="35.5" y="608.6" font-size="14.6" font-weight="bold" font-style="normal" fill="#1cb41c" text-anchor="start" textLength="68.6" lengthAdjust="spacingAndGlyphs" stroke="#1cb41c" stroke-width="0.35">Microglia 1</text>
<text x="35.5" y="636.6" font-size="14.6" font-weight="bold" font-style="normal" fill="#1cb41c" text-anchor="start" textLength="92.6" lengthAdjust="spacingAndGlyphs" stroke="#1cb41c" stroke-width="0.35">Non-migrating</text>
<text x="35.5" y="654.8" font-size="14.6" font-weight="bold" font-style="normal" fill="#1cb41c" text-anchor="start" textLength="69.6" lengthAdjust="spacingAndGlyphs" stroke="#1cb41c" stroke-width="0.35">Microglia 2</text>
<text x="35.5" y="682.4" font-size="14.6" font-weight="bold" font-style="normal" fill="#1cb41c" text-anchor="start" textLength="92.6" lengthAdjust="spacingAndGlyphs" stroke="#1cb41c" stroke-width="0.35">Non-migrating</text>
<text x="35.5" y="700.6" font-size="14.6" font-weight="bold" font-style="normal" fill="#1cb41c" text-anchor="start" textLength="69.6" lengthAdjust="spacingAndGlyphs" stroke="#1cb41c" stroke-width="0.35">Microglia 3</text>
<polyline points="455.0,578.1 521.6,578.1 521.6,560.1" fill="none" stroke="#111" stroke-width="1.7" stroke-linejoin="round" stroke-linecap="square" stroke-linejoin="miter"/>
<text x="461.3" y="603.1" font-size="12" font-weight="normal" font-style="normal" fill="#333" text-anchor="start" textLength="33.2" lengthAdjust="spacingAndGlyphs" >10 min</text>
<g transform="translate(543.4,596.0) rotate(-90)">
<text x="0" y="0" font-size="13.4" font-weight="normal" font-style="normal" fill="#2a2a2a" text-anchor="start" textLength="78.4" lengthAdjust="spacingAndGlyphs" >100% ΔF/F0</text>
</g>
<rect x="648.5" y="509.3" width="32.5" height="187.2" fill="#ff0000" stroke="#000" stroke-width="1.6"/>
<rect x="701.2" y="656.7" width="32.2" height="39.8" fill="#00c000" stroke="#000" stroke-width="1.6"/>
<line x1="630" y1="401.8" x2="630" y2="697.3" stroke="#000" stroke-width="1.7" />
<line x1="623.5" y1="696.5" x2="752.8" y2="696.5" stroke="#000" stroke-width="1.7" />
<line x1="623.5" y1="402.5" x2="630" y2="402.5" stroke="#000" stroke-width="1.7" />
<text x="622.0" y="407.2" font-size="13" font-weight="bold" font-style="normal" fill="#000" text-anchor="end" >1.5</text>
<line x1="623.5" y1="500.5" x2="630" y2="500.5" stroke="#000" stroke-width="1.7" />
<text x="622.0" y="505.2" font-size="13" font-weight="bold" font-style="normal" fill="#000" text-anchor="end" >1.0</text>
<line x1="623.5" y1="598.5" x2="630" y2="598.5" stroke="#000" stroke-width="1.7" />
<text x="622.0" y="603.2" font-size="13" font-weight="bold" font-style="normal" fill="#000" text-anchor="end" >0.5</text>
<line x1="623.5" y1="696.5" x2="630" y2="696.5" stroke="#000" stroke-width="1.7" />
<text x="622.0" y="701.2" font-size="13" font-weight="bold" font-style="normal" fill="#000" text-anchor="end" >0.0</text>
<line x1="664.6" y1="492.7" x2="664.6" y2="524.5" stroke="#000" stroke-width="1.8" />
<circle cx="654.4" cy="500.4" r="2.3" fill="#000"/>
<circle cx="664.6" cy="500.4" r="2.3" fill="#000"/>
<circle cx="674.6" cy="500.4" r="2.3" fill="#000"/>
<circle cx="664.6" cy="533.0" r="2.3" fill="#000"/>
<line x1="717.2" y1="622.8" x2="717.2" y2="696.5" stroke="#000" stroke-width="1.8" />
<circle cx="717.2" cy="622.8" r="2.3" fill="#000"/>
<circle cx="717.2" cy="647.2" r="2.3" fill="#000"/>
<circle cx="717.2" cy="657.2" r="2.3" fill="#000"/>
<circle cx="717.2" cy="696.3" r="2.3" fill="#000"/>
<polyline points="671.4,424.6 671.4,411.2 736.2,411.2 736.2,512.6" fill="none" stroke="#111" stroke-width="1.7" stroke-linejoin="round" stroke-linejoin="miter"/>
<text x="704.2" y="408.6" font-size="14" font-weight="normal" font-style="normal" fill="#222" text-anchor="middle" >***</text>
<text x="673.6" y="443.6" font-size="12.5" font-weight="bold" font-style="normal" fill="#111" text-anchor="middle" textLength="38.0" lengthAdjust="spacingAndGlyphs" >(n = 4)</text>
<text x="737.2" y="536.3" font-size="12.5" font-weight="bold" font-style="normal" fill="#111" text-anchor="middle" textLength="38.0" lengthAdjust="spacingAndGlyphs" >(n = 4)</text>
<g transform="translate(569.2,547.0) rotate(-90)">
<text x="0" y="0" font-size="19" font-weight="bold" font-style="normal" fill="#111" text-anchor="middle" textLength="227.3" lengthAdjust="spacingAndGlyphs" >Fraction of cells showing</text>
</g>
<g transform="translate(595.4,543.8) rotate(-90)">
<text x="0" y="0" font-size="19" font-weight="bold" fill="#111" text-anchor="middle" textLength="227.2" lengthAdjust="spacingAndGlyphs">immediate Ca<tspan font-size="13.5" dy="-8.5">2+</tspan><tspan dy="8.5"> transient</tspan></text>
</g>
<rect x="104.9" y="1062.0" width="38.0" height="5.0" fill="#e00000" stroke="#000" stroke-width="1.6"/>
<rect x="164.4" y="991.6" width="36.8" height="75.4" fill="#ff0000" stroke="#000" stroke-width="1.6"/>
<rect x="261.2" y="1060.6" width="37.6" height="6.4" fill="#20c020" stroke="#000" stroke-width="1.6"/>
<rect x="319.8" y="1061.4" width="37.2" height="5.6" fill="#20c020" stroke="#000" stroke-width="1.6"/>
<line x1="85.8" y1="774.6" x2="85.8" y2="1068.1" stroke="#000" stroke-width="1.7" />
<line x1="79.8" y1="1067.3" x2="378.2" y2="1067.3" stroke="#000" stroke-width="1.8" />
<line x1="79.8" y1="776.0" x2="85.8" y2="776.0" stroke="#000" stroke-width="1.7" />
<text x="78.0" y="780.7" font-size="13" font-weight="bold" font-style="normal" fill="#000" text-anchor="end" >1.5</text>
<line x1="79.8" y1="873.0" x2="85.8" y2="873.0" stroke="#000" stroke-width="1.7" />
<text x="78.0" y="877.7" font-size="13" font-weight="bold" font-style="normal" fill="#000" text-anchor="end" >1.0</text>
<line x1="79.8" y1="970.0" x2="85.8" y2="970.0" stroke="#000" stroke-width="1.7" />
<text x="78.0" y="974.7" font-size="13" font-weight="bold" font-style="normal" fill="#000" text-anchor="end" >0.5</text>
<line x1="79.8" y1="1067.3" x2="85.8" y2="1067.3" stroke="#000" stroke-width="1.7" />
<text x="78.0" y="1072.0" font-size="13" font-weight="bold" font-style="normal" fill="#000" text-anchor="end" >0.0</text>
<line x1="182.6" y1="971.4" x2="182.6" y2="1012" stroke="#000" stroke-width="2.0" />
<line x1="123.9" y1="1058.5" x2="123.9" y2="1062" stroke="#000" stroke-width="1.6" />
<line x1="279.9" y1="1056" x2="279.9" y2="1061" stroke="#000" stroke-width="1.6" />
<circle cx="123.9" cy="1009.5" r="2.6" fill="#000"/>
<circle cx="123.9" cy="1048.3" r="2.6" fill="#000"/>
<circle cx="129.8" cy="1059.3" r="2.6" fill="#000"/>
<circle cx="108.5" cy="1067.0" r="2.6" fill="#000"/>
<circle cx="113.3" cy="1067.0" r="2.6" fill="#000"/>
<circle cx="118.1" cy="1067.0" r="2.6" fill="#000"/>
<circle cx="123.0" cy="1067.0" r="2.6" fill="#000"/>
<circle cx="127.8" cy="1067.0" r="2.6" fill="#000"/>
<circle cx="132.6" cy="1067.0" r="2.6" fill="#000"/>
<circle cx="137.4" cy="1067.0" r="2.6" fill="#000"/>
<circle cx="141.6" cy="1067.0" r="2.6" fill="#000"/>
<circle cx="182.6" cy="817.0" r="2.6" fill="#000"/>
<circle cx="182.6" cy="855.6" r="2.6" fill="#000"/>
<circle cx="182.6" cy="932.6" r="2.6" fill="#000"/>
<circle cx="182.6" cy="950.8" r="2.6" fill="#000"/>
<circle cx="182.6" cy="963.8" r="2.6" fill="#000"/>
<circle cx="182.6" cy="981.2" r="2.6" fill="#000"/>
<circle cx="182.6" cy="997.2" r="2.6" fill="#000"/>
<circle cx="182.6" cy="1011.3" r="2.6" fill="#000"/>
<circle cx="177.5" cy="1029.1" r="2.6" fill="#000"/>
<circle cx="187.6" cy="1029.1" r="2.6" fill="#000"/>
<circle cx="182.6" cy="1048.3" r="2.6" fill="#000"/>
<circle cx="172.4" cy="1056.7" r="2.6" fill="#000"/>
<circle cx="182.6" cy="1059.3" r="2.6" fill="#000"/>
<circle cx="192.6" cy="1059.3" r="2.6" fill="#000"/>
<circle cx="182.6" cy="1067.5" r="2.6" fill="#000"/>
<circle cx="279.9" cy="1028.7" r="2.6" fill="#000"/>
<circle cx="279.9" cy="1041.7" r="2.6" fill="#000"/>
<circle cx="273.9" cy="1054.9" r="2.6" fill="#000"/>
<circle cx="277.9" cy="1054.9" r="2.6" fill="#000"/>
<circle cx="281.9" cy="1054.9" r="2.6" fill="#000"/>
<circle cx="285.8" cy="1054.9" r="2.6" fill="#000"/>
<circle cx="263.0" cy="1067.0" r="2.6" fill="#000"/>
<circle cx="267.0" cy="1067.0" r="2.6" fill="#000"/>
<circle cx="271.0" cy="1067.0" r="2.6" fill="#000"/>
<circle cx="275.0" cy="1067.0" r="2.6" fill="#000"/>
<circle cx="279.0" cy="1067.0" r="2.6" fill="#000"/>
<circle cx="283.0" cy="1067.0" r="2.6" fill="#000"/>
<circle cx="287.0" cy="1067.0" r="2.6" fill="#000"/>
<circle cx="291.0" cy="1067.0" r="2.6" fill="#000"/>
<circle cx="295.0" cy="1067.0" r="2.6" fill="#000"/>
<circle cx="338.3" cy="1041.7" r="2.6" fill="#000"/>
<circle cx="334.3" cy="1054.5" r="2.6" fill="#000"/>
<circle cx="329.7" cy="1058.2" r="2.6" fill="#000"/>
<circle cx="343.0" cy="1054.5" r="2.6" fill="#000"/>
<circle cx="347.1" cy="1054.5" r="2.6" fill="#000"/>
<circle cx="350.7" cy="1058.2" r="2.6" fill="#000"/>
<circle cx="322.0" cy="1067.0" r="2.6" fill="#000"/>
<circle cx="338.3" cy="1067.0" r="2.6" fill="#000"/>
<circle cx="344.0" cy="1067.0" r="2.6" fill="#000"/>
<circle cx="348.5" cy="1067.0" r="2.6" fill="#000"/>
<circle cx="353.0" cy="1067.0" r="2.6" fill="#000"/>
<polyline points="182.2,766.0 182.2,757.2 340.4,757.2 340.4,766.0" fill="none" stroke="#111" stroke-width="1.7" stroke-linejoin="round" stroke-linejoin="miter"/>
<polyline points="122.0,793.0 122.0,785.4 271.9,785.4 271.9,792.4" fill="none" stroke="#111" stroke-width="1.7" stroke-linejoin="round" stroke-linejoin="miter"/>
<polyline points="122.0,809.6 122.0,801.6 182.7,801.6 182.7,809.4" fill="none" stroke="#111" stroke-width="1.7" stroke-linejoin="round" stroke-linejoin="miter"/>
<polyline points="271.9,808.0 271.9,798.9 339.1,798.9 339.1,808.0" fill="none" stroke="#111" stroke-width="1.7" stroke-linejoin="round" stroke-linejoin="miter"/>
<text x="263.2" y="756.8" font-size="14" font-weight="normal" font-style="normal" fill="#222" text-anchor="middle" >***</text>
<text x="151.9" y="801.3" font-size="14" font-weight="normal" font-style="normal" fill="#222" text-anchor="middle" >**</text>
<text x="175.2" y="779.0" font-size="14.3" font-weight="bold" fill="#111" textLength="41.3" lengthAdjust="spacingAndGlyphs"><tspan font-style="italic">p</tspan> = 0.4</text>
<text x="283.8" y="791.8" font-size="14.3" font-weight="bold" fill="#111" textLength="41.8" lengthAdjust="spacingAndGlyphs"><tspan font-style="italic">p</tspan> = 0.4</text>
<rect x="213.6" y="842.0" width="12.8" height="12.8" fill="#ff0000" stroke="#000" stroke-width="1.6"/>
<rect x="213.6" y="860.2" width="12.8" height="12.8" fill="#18c018" stroke="#000" stroke-width="1.6"/>
<text x="233.5" y="853.4" font-size="15.5" font-weight="normal" font-style="normal" fill="#111" text-anchor="start" textLength="181" lengthAdjust="spacingAndGlyphs" >Migrating microglia (15)</text>
<text x="233.5" y="871.6" font-size="15.5" font-weight="normal" font-style="normal" fill="#111" text-anchor="start" textLength="219.5" lengthAdjust="spacingAndGlyphs" >Non-migrating microglia (16)</text>
<text x="255.3" y="1097.0" font-size="16.8" font-weight="bold" font-style="normal" fill="#111" text-anchor="start" textLength="54.0" lengthAdjust="spacingAndGlyphs" >Before</text>
<text x="322.6" y="1097.0" font-size="16.8" font-weight="bold" font-style="normal" fill="#111" text-anchor="start" textLength="39.0" lengthAdjust="spacingAndGlyphs" >After</text>
<text x="161.8" y="1097.0" font-size="16.8" font-weight="bold" font-style="normal" fill="#111" text-anchor="start" textLength="39.0" lengthAdjust="spacingAndGlyphs" >After</text>
<text x="97.3" y="1097.0" font-size="16.8" font-weight="bold" font-style="normal" fill="#111" text-anchor="start" textLength="54.0" lengthAdjust="spacingAndGlyphs" >Before</text>
<g transform="translate(49.0,921.4) rotate(-90)">
<text x="0" y="0" font-size="17" font-weight="bold" fill="#111" text-anchor="middle" textLength="256.9" lengthAdjust="spacingAndGlyphs">Ca<tspan font-size="12.5" dy="-8">2+</tspan><tspan dy="8"> transient number (/min)</tspan></text>
</g>
<line x1="510.6" y1="846.0" x2="510.6" y2="1053.8" stroke="#000" stroke-width="1.8" />
<line x1="504.0" y1="1053.0" x2="751.2" y2="1053.0" stroke="#000" stroke-width="1.8" />
<line x1="504.0" y1="1053.0" x2="510.6" y2="1053.0" stroke="#000" stroke-width="1.7" />
<text x="501.0" y="1057.7" font-size="13" font-weight="bold" font-style="normal" fill="#000" text-anchor="end" >0</text>
<line x1="504.0" y1="984.2" x2="510.6" y2="984.2" stroke="#000" stroke-width="1.7" />
<text x="501.0" y="988.9000000000001" font-size="13" font-weight="bold" font-style="normal" fill="#000" text-anchor="end" >1</text>
<line x1="504.0" y1="915.4" x2="510.6" y2="915.4" stroke="#000" stroke-width="1.7" />
<text x="501.0" y="920.1" font-size="13" font-weight="bold" font-style="normal" fill="#000" text-anchor="end" >2</text>
<line x1="504.0" y1="846.6" x2="510.6" y2="846.6" stroke="#000" stroke-width="1.7" />
<text x="501.0" y="851.3000000000001" font-size="13" font-weight="bold" font-style="normal" fill="#000" text-anchor="end" >3</text>
<line x1="510.6" y1="1053.0" x2="510.6" y2="1060.0" stroke="#000" stroke-width="1.8" />
<text x="510.6" y="1075.0" font-size="13" font-weight="bold" font-style="normal" fill="#000" text-anchor="middle" >0.0</text>
<line x1="558.6" y1="1053.0" x2="558.6" y2="1060.0" stroke="#000" stroke-width="1.8" />
<text x="558.6" y="1075.0" font-size="13" font-weight="bold" font-style="normal" fill="#000" text-anchor="middle" >0.2</text>
<line x1="606.6" y1="1053.0" x2="606.6" y2="1060.0" stroke="#000" stroke-width="1.8" />
<text x="606.6" y="1075.0" font-size="13" font-weight="bold" font-style="normal" fill="#000" text-anchor="middle" >0.4</text>
<line x1="654.6" y1="1053.0" x2="654.6" y2="1060.0" stroke="#000" stroke-width="1.8" />
<text x="654.6" y="1075.0" font-size="13" font-weight="bold" font-style="normal" fill="#000" text-anchor="middle" >0.6</text>
<line x1="702.6" y1="1053.0" x2="702.6" y2="1060.0" stroke="#000" stroke-width="1.8" />
<text x="702.6" y="1075.0" font-size="13" font-weight="bold" font-style="normal" fill="#000" text-anchor="middle" >0.8</text>
<line x1="750.6" y1="1053.0" x2="750.6" y2="1060.0" stroke="#000" stroke-width="1.8" />
<text x="750.6" y="1075.0" font-size="13" font-weight="bold" font-style="normal" fill="#000" text-anchor="middle" >1.0</text>
<line x1="510.6" y1="989.8" x2="699.2" y2="936.6" stroke="#222" stroke-width="1.0" />
<circle cx="511.2" cy="965.4" r="4.6" fill="#000"/>
<circle cx="520.2" cy="1034.8" r="4.6" fill="#000"/>
<circle cx="542.6" cy="996.0" r="4.6" fill="#000"/>
<circle cx="558.8" cy="969.6" r="4.6" fill="#000"/>
<circle cx="566.7" cy="910.2" r="4.6" fill="#000"/>
<circle cx="582.8" cy="942.4" r="4.6" fill="#000"/>
<circle cx="607.0" cy="1029.6" r="4.6" fill="#000"/>
<circle cx="623.4" cy="861.6" r="4.6" fill="#000"/>
<circle cx="625.9" cy="1003.9" r="4.6" fill="#000"/>
<circle cx="642.6" cy="1021.9" r="4.6" fill="#000"/>
<circle cx="644.2" cy="968.4" r="4.6" fill="#000"/>
<circle cx="650.3" cy="913.4" r="4.6" fill="#000"/>
<circle cx="663.3" cy="979.6" r="4.6" fill="#000"/>
<circle cx="689.3" cy="982.0" r="4.6" fill="#000"/>
<circle cx="699.4" cy="861.6" r="4.6" fill="#000"/>
<text x="697.0" y="927.8" font-size="14" font-weight="bold" fill="#111"><tspan font-style="italic">p</tspan> = 0.3</text>
<text x="517.5" y="1102.2" font-size="17" font-weight="bold" fill="#111" textLength="227.5" lengthAdjust="spacingAndGlyphs">Ca<tspan font-size="13" dy="-8">2+</tspan><tspan dy="8"> transient number (/min)</tspan></text>
<g transform="translate(485.8,946.5) rotate(-90)">
<text x="0" y="0" font-size="18" font-weight="bold" font-style="normal" fill="#111" text-anchor="middle" textLength="207" lengthAdjust="spacingAndGlyphs" >Migration speed (μm/min)</text>
</g>
</svg></body></html>
